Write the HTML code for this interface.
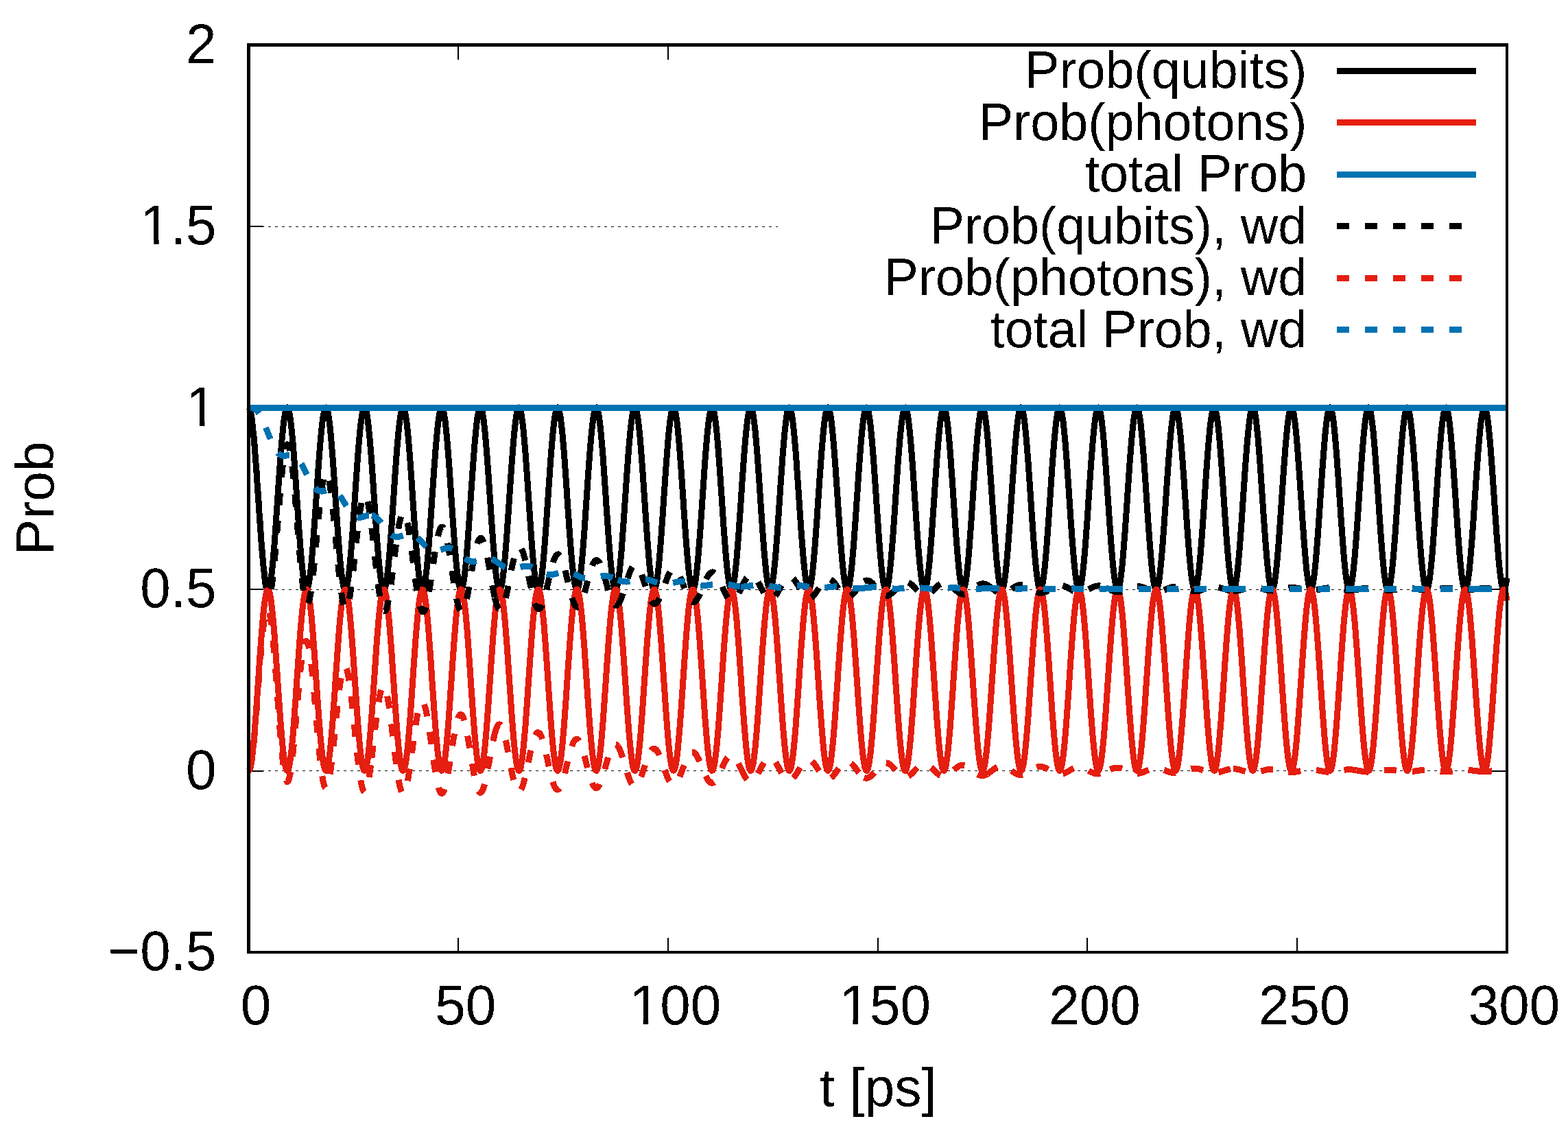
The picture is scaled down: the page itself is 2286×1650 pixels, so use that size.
<!DOCTYPE html>
<html lang="en"><head><meta charset="utf-8"><title>Prob vs t</title>
<style>html,body{margin:0;padding:0;background:#fff;}body{width:2286px;height:1650px;overflow:hidden;}svg{display:block;}text{font-family:"Liberation Sans",sans-serif;font-size:80px;fill:#000;}.k{font-size:75.5px;}.ax{font-size:78.5px;}</style>
</head><body>
<svg width="2286" height="1650" viewBox="0 0 2286 1650" role="img" aria-label="Prob versus t [ps]">
<defs><filter id="crisp" x="0" y="0" width="2286" height="1650" filterUnits="userSpaceOnUse" color-interpolation-filters="sRGB"><feComponentTransfer><feFuncA type="discrete" tableValues="0 1"/></feComponentTransfer></filter></defs>
<rect x="0" y="0" width="2286" height="1650" fill="#fff"/>
<g stroke="#000" stroke-width="1" stroke-dasharray="4.4 5.6" fill="none" shape-rendering="crispEdges">
<line x1="361" y1="330.5" x2="2195" y2="330.5"/>
<line x1="361" y1="594.5" x2="2195" y2="594.5"/>
<line x1="361" y1="859.5" x2="2195" y2="859.5"/>
<line x1="361" y1="1123.5" x2="2195" y2="1123.5"/>
</g>
<g fill="#000" shape-rendering="crispEdges">
<rect x="365" y="329" width="19" height="2"/>
<rect x="2175" y="329" width="20" height="2"/>
<rect x="365" y="594" width="19" height="2"/>
<rect x="2175" y="594" width="20" height="2"/>
<rect x="365" y="858" width="19" height="2"/>
<rect x="2175" y="858" width="20" height="2"/>
<rect x="365" y="1123" width="19" height="2"/>
<rect x="2175" y="1123" width="20" height="2"/>
<rect x="667" y="1367" width="2" height="19"/>
<rect x="667" y="68" width="2" height="19"/>
<rect x="973" y="1367" width="2" height="19"/>
<rect x="973" y="68" width="2" height="19"/>
<rect x="1279" y="1367" width="2" height="19"/>
<rect x="1279" y="68" width="2" height="19"/>
<rect x="1584" y="1367" width="2" height="19"/>
<rect x="1584" y="68" width="2" height="19"/>
<rect x="1890" y="1367" width="2" height="19"/>
<rect x="1890" y="68" width="2" height="19"/>
</g>
<g fill="none" stroke-width="9" stroke-linejoin="round" stroke-linecap="butt" shape-rendering="crispEdges">
<path stroke="#000" d="M362.5 593.9L363.8 595.4L365.2 599.9L366.5 607.2L367.9 617.1L369.2 629.6L370.6 644.2L371.9 660.7L373.3 678.7L374.6 697.8L375.9 717.5L377.3 737.4L378.6 757.1L380.0 776.1L381.3 793.9L382.7 810.3L384.0 824.8L385.4 837.1L386.7 846.9L388.1 854.0L389.4 858.3L390.7 859.6L392.1 857.9L393.4 853.2L394.8 845.8L396.1 835.6L397.5 823.0L398.8 808.2L400.2 791.6L401.5 773.5L402.8 754.4L404.2 734.7L405.5 714.8L406.9 695.1L408.2 676.2L409.6 658.4L410.9 642.1L412.3 627.8L413.6 615.6L415.0 606.0L416.3 599.1L417.6 595.0L419.0 593.9L420.3 595.8L421.7 600.7L423.0 608.4L424.4 618.7L425.7 631.5L427.1 646.4L428.4 663.1L429.7 681.2L431.1 700.4L432.4 720.2L433.8 740.1L435.1 759.7L436.5 778.5L437.8 796.3L439.2 812.4L440.5 826.6L441.9 838.6L443.2 848.0L444.5 854.8L445.9 858.6L447.2 859.5L448.6 857.4L449.9 852.4L451.3 844.5L452.6 834.0L454.0 821.1L455.3 806.1L456.6 789.2L458.0 771.0L459.3 751.8L460.7 732.0L462.0 712.1L463.4 692.5L464.7 673.7L466.1 656.1L467.4 640.1L468.8 626.0L470.1 614.2L471.4 604.9L472.8 598.4L474.1 594.7L475.5 594.0L476.8 596.3L478.2 601.6L479.5 609.6L480.9 620.3L482.2 633.4L483.5 648.5L484.9 665.5L486.2 683.8L487.6 703.0L488.9 722.8L490.3 742.7L491.6 762.3L493.0 781.0L494.3 798.5L495.6 814.4L497.0 828.4L498.3 840.0L499.7 849.1L501.0 855.5L502.4 858.9L503.7 859.4L505.1 856.9L506.4 851.5L507.8 843.3L509.1 832.4L510.4 819.2L511.8 803.9L513.1 786.8L514.5 768.5L515.8 749.1L517.2 729.3L518.5 709.4L519.9 689.9L521.2 671.3L522.5 653.8L523.9 638.1L525.2 624.3L526.6 612.8L527.9 603.9L529.3 597.7L530.6 594.4L532.0 594.2L533.3 596.9L534.7 602.5L536.0 610.9L537.3 621.9L538.7 635.3L540.0 650.7L541.4 667.9L542.7 686.3L544.1 705.7L545.4 725.5L546.8 745.4L548.1 764.9L549.4 783.5L550.8 800.8L552.1 816.4L553.5 830.1L554.8 841.4L556.2 850.1L557.5 856.1L558.9 859.2L560.2 859.2L561.6 856.3L562.9 850.5L564.2 841.9L565.6 830.8L566.9 817.2L568.3 801.7L569.6 784.4L571.0 765.9L572.3 746.5L573.7 726.6L575.0 706.8L576.3 687.3L577.7 668.8L579.0 651.6L580.4 636.1L581.7 622.6L583.1 611.4L584.4 602.9L585.8 597.1L587.1 594.2L588.5 594.4L589.8 597.5L591.1 603.5L592.5 612.2L593.8 623.6L595.2 637.3L596.5 652.9L597.9 670.3L599.2 688.9L600.6 708.4L601.9 728.2L603.2 748.1L604.6 767.4L605.9 785.9L607.3 803.0L608.6 818.4L610.0 831.8L611.3 842.7L612.7 851.1L614.0 856.7L615.3 859.4L616.7 859.0L618.0 855.7L619.4 849.5L620.7 840.6L622.1 829.1L623.4 815.2L624.8 799.4L626.1 782.0L627.5 763.3L628.8 743.8L630.1 723.9L631.5 704.1L632.8 684.8L634.2 666.4L635.5 649.4L636.9 634.1L638.2 620.9L639.6 610.1L640.9 601.9L642.2 596.5L643.6 594.1L644.9 594.6L646.3 598.1L647.6 604.5L649.0 613.6L650.3 625.3L651.7 639.3L653.0 655.2L654.4 672.7L655.7 691.5L657.0 711.0L658.4 730.9L659.7 750.7L661.1 770.0L662.4 788.3L663.8 805.2L665.1 820.3L666.5 833.4L667.8 844.0L669.1 852.0L670.5 857.2L671.8 859.5L673.2 858.8L674.5 855.1L675.9 848.5L677.2 839.2L678.6 827.3L679.9 813.2L681.3 797.2L682.6 779.5L683.9 760.7L685.3 741.1L686.6 721.2L688.0 701.4L689.3 682.2L690.7 664.0L692.0 647.2L693.4 632.2L694.7 619.3L696.0 608.8L697.4 601.0L698.7 596.0L700.1 594.0L701.4 594.9L702.8 598.8L704.1 605.6L705.5 615.1L706.8 627.1L708.1 641.3L709.5 657.5L710.8 675.2L712.2 694.1L713.5 713.7L714.9 733.6L716.2 753.4L717.6 772.5L718.9 790.7L720.3 807.4L721.6 822.2L722.9 835.0L724.3 845.3L725.6 852.9L727.0 857.7L728.3 859.6L729.7 858.4L731.0 854.3L732.4 847.4L733.7 837.7L735.0 825.5L736.4 811.1L737.7 794.9L739.1 777.0L740.4 758.1L741.8 738.4L743.1 718.5L744.5 698.8L745.8 679.7L747.2 661.7L748.5 645.1L749.8 630.3L751.2 617.8L752.5 607.6L753.9 600.2L755.2 595.6L756.6 593.9L757.9 595.3L759.3 599.5L760.6 606.7L761.9 616.5L763.3 628.9L764.6 643.4L766.0 659.8L767.3 677.7L768.7 696.7L770.0 716.4L771.4 736.3L772.7 756.0L774.1 775.1L775.4 793.0L776.7 809.5L778.1 824.1L779.4 836.5L780.8 846.5L782.1 853.7L783.5 858.1L784.8 859.6L786.2 858.0L787.5 853.6L788.8 846.2L790.2 836.2L791.5 823.7L792.9 809.0L794.2 792.5L795.6 774.5L796.9 755.5L798.3 735.8L799.6 715.8L801.0 696.2L802.3 677.2L803.6 659.3L805.0 643.0L806.3 628.5L807.7 616.2L809.0 606.5L810.4 599.4L811.7 595.2L813.1 593.9L814.4 595.7L815.7 600.3L817.1 607.9L818.4 618.1L819.8 630.7L821.1 645.5L822.5 662.1L823.8 680.2L825.2 699.3L826.5 719.1L827.8 739.0L829.2 758.6L830.5 777.6L831.9 795.3L833.2 811.6L834.6 825.9L835.9 838.0L837.3 847.6L838.6 854.5L840.0 858.5L841.3 859.5L842.6 857.6L844.0 852.7L845.3 845.0L846.7 834.6L848.0 821.9L849.4 806.9L850.7 790.2L852.1 772.0L853.4 752.8L854.7 733.1L856.1 713.2L857.4 693.6L858.8 674.7L860.1 657.0L861.5 640.9L862.8 626.7L864.2 614.8L865.5 605.3L866.9 598.6L868.2 594.8L869.5 594.0L870.9 596.1L872.2 601.2L873.6 609.1L874.9 619.6L876.3 632.6L877.6 647.7L879.0 664.5L880.3 682.8L881.6 702.0L883.0 721.8L884.3 741.7L885.7 761.2L887.0 780.0L888.4 797.6L889.7 813.6L891.1 827.7L892.4 839.5L893.8 848.7L895.1 855.2L896.4 858.8L897.8 859.5L899.1 857.1L900.5 851.9L901.8 843.8L903.2 833.1L904.5 820.0L905.9 804.8L907.2 787.8L908.5 769.5L909.9 750.2L911.2 730.4L912.6 710.5L913.9 691.0L915.3 672.2L916.6 654.7L918.0 638.9L919.3 624.9L920.7 613.3L922.0 604.3L923.3 598.0L924.7 594.5L926.0 594.1L927.4 596.6L928.7 602.1L930.1 610.4L931.4 621.3L932.8 634.5L934.1 649.8L935.4 666.9L936.8 685.3L938.1 704.6L939.5 724.5L940.8 744.4L942.2 763.8L943.5 782.5L944.9 799.9L946.2 815.7L947.5 829.4L948.9 840.9L950.2 849.7L951.6 855.9L952.9 859.1L954.3 859.3L955.6 856.6L957.0 850.9L958.3 842.5L959.7 831.4L961.0 818.0L962.3 802.6L963.7 785.4L965.0 766.9L966.4 747.5L967.7 727.7L969.1 707.8L970.4 688.4L971.8 669.8L973.1 652.5L974.4 636.8L975.8 623.2L977.1 612.0L978.5 603.3L979.8 597.3L981.2 594.3L982.5 594.3L983.9 597.2L985.2 603.1L986.6 611.7L987.9 622.9L989.2 636.5L990.6 652.1L991.9 669.3L993.3 687.9L994.6 707.3L996.0 727.2L997.3 747.0L998.7 766.4L1000.0 784.9L1001.3 802.1L1002.7 817.6L1004.0 831.1L1005.4 842.2L1006.7 850.7L1008.1 856.5L1009.4 859.3L1010.8 859.1L1012.1 856.0L1013.5 849.9L1014.8 841.1L1016.1 829.7L1017.5 816.0L1018.8 800.3L1020.2 783.0L1021.5 764.3L1022.9 744.9L1024.2 725.0L1025.6 705.1L1026.9 685.8L1028.2 667.4L1029.6 650.3L1030.9 634.9L1032.3 621.6L1033.6 610.6L1035.0 602.3L1036.3 596.7L1037.7 594.1L1039.0 594.5L1040.4 597.8L1041.7 604.1L1043.0 613.1L1044.4 624.6L1045.7 638.5L1047.1 654.3L1048.4 671.8L1049.8 690.5L1051.1 710.0L1052.5 729.9L1053.8 749.7L1055.1 769.0L1056.5 787.3L1057.8 804.3L1059.2 819.6L1060.5 832.7L1061.9 843.5L1063.2 851.7L1064.6 857.0L1065.9 859.4L1067.2 858.9L1068.6 855.3L1069.9 848.9L1071.3 839.7L1072.6 828.0L1074.0 814.0L1075.3 798.1L1076.7 780.5L1078.0 761.7L1079.4 742.2L1080.7 722.3L1082.0 702.5L1083.4 683.2L1084.7 665.0L1086.1 648.1L1087.4 633.0L1088.8 619.9L1090.1 609.3L1091.5 601.4L1092.8 596.2L1094.1 594.0L1095.5 594.8L1096.8 598.5L1098.2 605.1L1099.5 614.5L1100.9 626.4L1102.2 640.5L1103.6 656.6L1104.9 674.2L1106.3 693.1L1107.6 712.7L1108.9 732.6L1110.3 752.3L1111.6 771.5L1113.0 789.7L1114.3 806.5L1115.7 821.5L1117.0 834.4L1118.4 844.8L1119.7 852.6L1121.0 857.5L1122.4 859.5L1123.7 858.6L1125.1 854.6L1126.4 847.8L1127.8 838.3L1129.1 826.2L1130.5 812.0L1131.8 795.8L1133.2 778.0L1134.5 759.1L1135.8 739.5L1137.2 719.6L1138.5 699.8L1139.9 680.7L1141.2 662.6L1142.6 645.9L1143.9 631.1L1145.3 618.4L1146.6 608.1L1147.9 600.5L1149.3 595.7L1150.6 593.9L1152.0 595.1L1153.3 599.2L1154.7 606.2L1156.0 616.0L1157.4 628.2L1158.7 642.6L1160.1 658.9L1161.4 676.7L1162.7 695.7L1164.1 715.3L1165.4 735.2L1166.8 755.0L1168.1 774.1L1169.5 792.1L1170.8 808.6L1172.2 823.4L1173.5 835.9L1174.8 846.0L1176.2 853.4L1177.5 858.0L1178.9 859.6L1180.2 858.2L1181.6 853.9L1182.9 846.7L1184.3 836.8L1185.6 824.4L1186.9 809.9L1188.3 793.5L1189.6 775.5L1191.0 756.5L1192.3 736.8L1193.7 716.9L1195.0 697.2L1196.4 678.2L1197.7 660.2L1199.1 643.8L1200.4 629.2L1201.7 616.8L1203.1 606.9L1204.4 599.7L1205.8 595.3L1207.1 593.9L1208.5 595.5L1209.8 600.0L1211.2 607.4L1212.5 617.5L1213.8 630.0L1215.2 644.7L1216.5 661.2L1217.9 679.2L1219.2 698.3L1220.6 718.0L1221.9 737.9L1223.3 757.6L1224.6 776.6L1226.0 794.4L1227.3 810.8L1228.6 825.2L1230.0 837.4L1231.3 847.2L1232.7 854.2L1234.0 858.4L1235.4 859.6L1236.7 857.8L1238.1 853.1L1239.4 845.5L1240.7 835.3L1242.1 822.6L1243.4 807.8L1244.8 791.1L1246.1 773.0L1247.5 753.9L1248.8 734.1L1250.2 714.2L1251.5 694.6L1252.9 675.7L1254.2 657.9L1255.5 641.7L1256.9 627.4L1258.2 615.3L1259.6 605.8L1260.9 598.9L1262.3 595.0L1263.6 594.0L1265.0 595.9L1266.3 600.9L1267.6 608.6L1269.0 619.0L1270.3 631.8L1271.7 646.8L1273.0 663.6L1274.4 681.7L1275.7 700.9L1277.1 720.7L1278.4 740.6L1279.8 760.2L1281.1 779.1L1282.4 796.7L1283.8 812.8L1285.1 827.0L1286.5 838.9L1287.8 848.3L1289.2 854.9L1290.5 858.7L1291.9 859.5L1293.2 857.3L1294.5 852.2L1295.9 844.3L1297.2 833.7L1298.6 820.7L1299.9 805.6L1301.3 788.7L1302.6 770.5L1304.0 751.2L1305.3 731.4L1306.6 711.5L1308.0 692.0L1309.3 673.2L1310.7 655.6L1312.0 639.7L1313.4 625.6L1314.7 613.9L1316.1 604.7L1317.4 598.2L1318.8 594.7L1320.1 594.1L1321.4 596.4L1322.8 601.7L1324.1 609.9L1325.5 620.6L1326.8 633.7L1328.2 649.0L1329.5 666.0L1330.9 684.3L1332.2 703.6L1333.5 723.4L1334.9 743.3L1336.2 762.8L1337.6 781.5L1338.9 799.0L1340.3 814.9L1341.6 828.7L1343.0 840.3L1344.3 849.3L1345.7 855.6L1347.0 859.0L1348.3 859.4L1349.7 856.8L1351.0 851.3L1352.4 843.0L1353.7 832.1L1355.1 818.8L1356.4 803.4L1357.8 786.3L1359.1 767.9L1360.4 748.6L1361.8 728.7L1363.1 708.9L1364.5 689.4L1365.8 670.7L1367.2 653.4L1368.5 637.6L1369.9 623.9L1371.2 612.5L1372.6 603.6L1373.9 597.6L1375.2 594.4L1376.6 594.2L1377.9 597.0L1379.3 602.7L1380.6 611.2L1382.0 622.3L1383.3 635.7L1384.7 651.2L1386.0 668.4L1387.3 686.9L1388.7 706.2L1390.0 726.1L1391.4 746.0L1392.7 765.4L1394.1 784.0L1395.4 801.3L1396.8 816.9L1398.1 830.4L1399.4 841.7L1400.8 850.4L1402.1 856.2L1403.5 859.2L1404.8 859.2L1406.2 856.2L1407.5 850.3L1408.9 841.7L1410.2 830.4L1411.6 816.8L1412.9 801.2L1414.2 783.9L1415.6 765.4L1416.9 745.9L1418.3 726.1L1419.6 706.2L1421.0 686.8L1422.3 668.3L1423.7 651.1L1425.0 635.7L1426.3 622.2L1427.7 611.1L1429.0 602.7L1430.4 597.0L1431.7 594.2L1433.1 594.4L1434.4 597.6L1435.8 603.7L1437.1 612.5L1438.5 623.9L1439.8 637.7L1441.1 653.4L1442.5 670.8L1443.8 689.4L1445.2 708.9L1446.5 728.8L1447.9 748.6L1449.2 768.0L1450.6 786.4L1451.9 803.5L1453.2 818.8L1454.6 832.1L1455.9 843.0L1457.3 851.3L1458.6 856.8L1460.0 859.4L1461.3 859.0L1462.7 855.6L1464.0 849.3L1465.4 840.3L1466.7 828.7L1468.0 814.8L1469.4 799.0L1470.7 781.5L1472.1 762.8L1473.4 743.2L1474.8 723.4L1476.1 703.5L1477.5 684.2L1478.8 665.9L1480.1 648.9L1481.5 633.7L1482.8 620.6L1484.2 609.8L1485.5 601.7L1486.9 596.4L1488.2 594.0L1489.6 594.7L1490.9 598.2L1492.3 604.7L1493.6 613.9L1494.9 625.7L1496.3 639.7L1497.6 655.7L1499.0 673.2L1500.3 692.0L1501.7 711.6L1503.0 731.5L1504.4 751.3L1505.7 770.5L1507.0 788.8L1508.4 805.7L1509.7 820.7L1511.1 833.7L1512.4 844.3L1513.8 852.2L1515.1 857.3L1516.5 859.5L1517.8 858.7L1519.1 854.9L1520.5 848.3L1521.8 838.9L1523.2 827.0L1524.5 812.8L1525.9 796.7L1527.2 779.0L1528.6 760.2L1529.9 740.6L1531.3 720.7L1532.6 700.9L1533.9 681.7L1535.3 663.5L1536.6 646.8L1538.0 631.8L1539.3 619.0L1540.7 608.6L1542.0 600.8L1543.4 595.9L1544.7 594.0L1546.0 595.0L1547.4 598.9L1548.7 605.8L1550.1 615.4L1551.4 627.4L1552.8 641.7L1554.1 658.0L1555.5 675.7L1556.8 694.6L1558.2 714.3L1559.5 734.2L1560.8 753.9L1562.2 773.1L1563.5 791.2L1564.9 807.8L1566.2 822.6L1567.6 835.3L1568.9 845.5L1570.3 853.1L1571.6 857.8L1572.9 859.6L1574.3 858.4L1575.6 854.2L1577.0 847.1L1578.3 837.4L1579.7 825.2L1581.0 810.7L1582.4 794.4L1583.7 776.5L1585.1 757.6L1586.4 737.9L1587.7 718.0L1589.1 698.3L1590.4 679.2L1591.8 661.2L1593.1 644.6L1594.5 629.9L1595.8 617.4L1597.2 607.4L1598.5 600.0L1599.8 595.5L1601.2 593.9L1602.5 595.3L1603.9 599.7L1605.2 606.9L1606.6 616.9L1607.9 629.2L1609.3 643.8L1610.6 660.3L1612.0 678.2L1613.3 697.3L1614.6 717.0L1616.0 736.9L1617.3 756.6L1618.7 775.6L1620.0 793.5L1621.4 809.9L1622.7 824.5L1624.1 836.8L1625.4 846.7L1626.7 853.9L1628.1 858.2L1629.4 859.6L1630.8 858.0L1632.1 853.4L1633.5 846.0L1634.8 835.9L1636.2 823.3L1637.5 808.6L1638.8 792.0L1640.2 774.0L1641.5 754.9L1642.9 735.2L1644.2 715.3L1645.6 695.6L1646.9 676.7L1648.3 658.8L1649.6 642.5L1651.0 628.1L1652.3 615.9L1653.6 606.2L1655.0 599.2L1656.3 595.1L1657.7 593.9L1659.0 595.8L1660.4 600.5L1661.7 608.1L1663.1 618.4L1664.4 631.1L1665.7 646.0L1667.1 662.6L1668.4 680.7L1669.8 699.9L1671.1 719.6L1672.5 739.6L1673.8 759.2L1675.2 778.1L1676.5 795.8L1677.9 812.0L1679.2 826.3L1680.5 838.3L1681.9 847.8L1683.2 854.6L1684.6 858.6L1685.9 859.5L1687.3 857.5L1688.6 852.6L1690.0 844.8L1691.3 834.3L1692.6 821.5L1694.0 806.5L1695.3 789.7L1696.7 771.5L1698.0 752.3L1699.4 732.5L1700.7 712.6L1702.1 693.0L1703.4 674.2L1704.8 656.5L1706.1 640.5L1707.4 626.3L1708.8 614.5L1710.1 605.1L1711.5 598.5L1712.8 594.8L1714.2 594.0L1715.5 596.2L1716.9 601.4L1718.2 609.4L1719.5 620.0L1720.9 633.0L1722.2 648.1L1723.6 665.0L1724.9 683.3L1726.3 702.5L1727.6 722.3L1729.0 742.2L1730.3 761.8L1731.7 780.6L1733.0 798.1L1734.3 814.1L1735.7 828.0L1737.0 839.8L1738.4 848.9L1739.7 855.3L1741.1 858.9L1742.4 859.4L1743.8 857.0L1745.1 851.7L1746.4 843.5L1747.8 832.7L1749.1 819.6L1750.5 804.3L1751.8 787.3L1753.2 768.9L1754.5 749.6L1755.9 729.8L1757.2 709.9L1758.5 690.4L1759.9 671.7L1761.2 654.3L1762.6 638.4L1763.9 624.6L1765.3 613.0L1766.6 604.1L1768.0 597.8L1769.3 594.5L1770.7 594.1L1772.0 596.8L1773.3 602.3L1774.7 610.6L1776.0 621.6L1777.4 634.9L1778.7 650.3L1780.1 667.4L1781.4 685.8L1782.8 705.2L1784.1 725.0L1785.4 744.9L1786.8 764.4L1788.1 783.0L1789.5 800.4L1790.8 816.1L1792.2 829.8L1793.5 841.1L1794.9 850.0L1796.2 856.0L1797.6 859.1L1798.9 859.3L1800.2 856.5L1801.6 850.7L1802.9 842.2L1804.3 831.1L1805.6 817.6L1807.0 802.1L1808.3 784.9L1809.7 766.4L1811.0 747.0L1812.3 727.1L1813.7 707.3L1815.0 687.8L1816.4 669.3L1817.7 652.0L1819.1 636.4L1820.4 622.9L1821.8 611.7L1823.1 603.0L1824.5 597.2L1825.8 594.3L1827.1 594.3L1828.5 597.3L1829.8 603.3L1831.2 612.0L1832.5 623.3L1833.9 636.9L1835.2 652.5L1836.6 669.8L1837.9 688.4L1839.2 707.9L1840.6 727.7L1841.9 747.6L1843.3 767.0L1844.6 785.4L1846.0 802.6L1847.3 818.0L1848.7 831.4L1850.0 842.5L1851.4 850.9L1852.7 856.6L1854.0 859.3L1855.4 859.1L1856.7 855.9L1858.1 849.7L1859.4 840.8L1860.8 829.4L1862.1 815.6L1863.5 799.9L1864.8 782.5L1866.1 763.8L1867.5 744.3L1868.8 724.4L1870.2 704.6L1871.5 685.3L1872.9 666.9L1874.2 649.8L1875.6 634.5L1876.9 621.2L1878.2 610.4L1879.6 602.1L1880.9 596.6L1882.3 594.1L1883.6 594.6L1885.0 598.0L1886.3 604.3L1887.7 613.4L1889.0 625.0L1890.4 638.9L1891.7 654.8L1893.0 672.3L1894.4 691.0L1895.7 710.5L1897.1 730.4L1898.4 750.2L1899.8 769.5L1901.1 787.8L1902.5 804.8L1903.8 820.0L1905.1 833.1L1906.5 843.8L1907.8 851.9L1909.2 857.1L1910.5 859.5L1911.9 858.8L1913.2 855.2L1914.6 848.7L1915.9 839.4L1917.3 827.6L1918.6 813.6L1919.9 797.6L1921.3 780.0L1922.6 761.2L1924.0 741.6L1925.3 721.7L1926.7 701.9L1928.0 682.7L1929.4 664.5L1930.7 647.6L1932.0 632.6L1933.4 619.6L1934.7 609.1L1936.1 601.2L1937.4 596.1L1938.8 594.0L1940.1 594.8L1941.5 598.7L1942.8 605.4L1944.2 614.8L1945.5 626.7L1946.8 640.9L1948.2 657.1L1949.5 674.7L1950.9 693.6L1952.2 713.2L1953.6 733.1L1954.9 752.9L1956.3 772.1L1957.6 790.2L1958.9 807.0L1960.3 821.9L1961.6 834.7L1963.0 845.0L1964.3 852.7L1965.7 857.6L1967.0 859.5L1968.4 858.5L1969.7 854.5L1971.0 847.6L1972.4 838.0L1973.7 825.9L1975.1 811.5L1976.4 795.3L1977.8 777.5L1979.1 758.6L1980.5 739.0L1981.8 719.0L1983.2 699.3L1984.5 680.2L1985.8 662.1L1987.2 645.5L1988.5 630.7L1989.9 618.0L1991.2 607.9L1992.6 600.3L1993.9 595.7L1995.3 593.9L1996.6 595.2L1997.9 599.4L1999.3 606.5L2000.6 616.3L2002.0 628.5L2003.3 643.0L2004.7 659.4L2006.0 677.2L2007.4 696.2L2008.7 715.9L2010.1 735.8L2011.4 755.5L2012.7 774.6L2014.1 792.6L2015.4 809.1L2016.8 823.7L2018.1 836.2L2019.5 846.2L2020.8 853.6L2022.2 858.1L2023.5 859.6L2024.8 858.1L2026.2 853.7L2027.5 846.4L2028.9 836.5L2030.2 824.1L2031.6 809.4L2032.9 793.0L2034.3 775.0L2035.6 756.0L2037.0 736.3L2038.3 716.3L2039.6 696.7L2041.0 677.7L2042.3 659.8L2043.7 643.4L2045.0 628.8L2046.4 616.5L2047.7 606.7L2049.1 599.5L2050.4 595.2L2051.7 593.9L2053.1 595.6L2054.4 600.2L2055.8 607.6L2057.1 617.8L2058.5 630.4L2059.8 645.1L2061.2 661.7L2062.5 679.7L2063.9 698.8L2065.2 718.6L2066.5 738.5L2067.9 758.1L2069.2 777.1L2070.6 794.9L2071.9 811.2L2073.3 825.6L2074.6 837.7L2076.0 847.4L2077.3 854.3L2078.6 858.4L2080.0 859.6L2081.3 857.7L2082.7 852.9L2084.0 845.3L2085.4 834.9L2086.7 822.2L2088.1 807.3L2089.4 790.6L2090.7 772.5L2092.1 753.3L2093.4 733.6L2094.8 713.7L2096.1 694.0L2097.5 675.2L2098.8 657.4L2100.2 641.3L2101.5 627.0L2102.9 615.0L2104.2 605.5L2105.5 598.8L2106.9 594.9L2108.2 594.0L2109.6 596.0L2110.9 601.0L2112.3 608.9L2113.6 619.3L2115.0 632.2L2116.3 647.3L2117.6 664.1L2119.0 682.3L2120.3 701.5L2121.7 721.3L2123.0 741.2L2124.4 760.8L2125.7 779.6L2127.1 797.2L2128.4 813.2L2129.8 827.3L2131.1 839.2L2132.4 848.5L2133.8 855.1L2135.1 858.8L2136.5 859.5L2137.8 857.2L2139.2 852.0L2140.5 844.0L2141.9 833.4L2143.2 820.3L2144.5 805.2L2145.9 788.2L2147.2 770.0L2148.6 750.7L2149.9 730.9L2151.3 711.0L2152.6 691.4L2154.0 672.7L2155.3 655.2L2156.7 639.2L2158.0 625.3L2159.3 613.6L2160.7 604.5L2162.0 598.1L2163.4 594.6L2164.7 594.1L2166.1 596.5L2167.4 601.9L2168.8 610.1L2170.1 621.0L2171.4 634.1L2172.8 649.4L2174.1 666.4L2175.5 684.8L2176.8 704.1L2178.2 724.0L2179.5 743.9L2180.9 763.4L2182.2 782.0L2183.6 799.5L2184.9 815.3L2186.2 829.1L2187.6 840.6L2188.9 849.6L2190.3 855.7L2191.6 859.0L2193.0 859.3L2194.3 856.7L2195.7 851.1L2197.0 842.7"/>
<path stroke="#e51e10" d="M362.5 1123.5L363.8 1122.0L365.2 1117.6L366.5 1110.3L367.9 1100.4L369.2 1088.0L370.6 1073.4L371.9 1057.0L373.3 1039.1L374.6 1020.1L375.9 1000.5L377.3 980.7L378.6 961.1L380.0 942.2L381.3 924.4L382.7 908.0L384.0 893.6L385.4 881.4L386.7 871.6L388.1 864.5L389.4 860.3L390.7 859.0L392.1 860.7L393.4 865.3L394.8 872.8L396.1 882.9L397.5 895.4L398.8 910.1L400.2 926.7L401.5 944.7L402.8 963.7L404.2 983.3L405.5 1003.2L406.9 1022.7L408.2 1041.6L409.6 1059.3L410.9 1075.5L412.3 1089.8L413.6 1101.9L415.0 1111.5L416.3 1118.4L417.6 1122.4L419.0 1123.5L420.3 1121.6L421.7 1116.8L423.0 1109.1L424.4 1098.8L425.7 1086.1L427.1 1071.3L428.4 1054.6L429.7 1036.6L431.1 1017.5L432.4 997.8L433.8 978.0L435.1 958.5L436.5 939.7L437.8 922.1L439.2 906.0L440.5 891.8L441.9 879.9L443.2 870.5L444.5 863.8L445.9 859.9L447.2 859.1L448.6 861.1L449.9 866.2L451.3 874.0L452.6 884.4L454.0 897.3L455.3 912.3L456.6 929.0L458.0 947.2L459.3 966.3L460.7 986.0L462.0 1005.8L463.4 1025.3L464.7 1044.1L466.1 1061.6L467.4 1077.5L468.8 1091.6L470.1 1103.3L471.4 1112.6L472.8 1119.1L474.1 1122.7L475.5 1123.4L476.8 1121.1L478.2 1115.9L479.5 1107.9L480.9 1097.3L482.2 1084.2L483.5 1069.1L484.9 1052.3L486.2 1034.0L487.6 1014.9L488.9 995.1L490.3 975.3L491.6 955.9L493.0 937.2L494.3 919.8L495.6 903.9L497.0 890.1L498.3 878.5L499.7 869.4L501.0 863.1L502.4 859.7L503.7 859.2L505.1 861.7L506.4 867.1L507.8 875.3L509.1 886.1L510.4 899.2L511.8 914.5L513.1 931.4L514.5 949.7L515.8 969.0L517.2 988.7L518.5 1008.5L519.9 1027.9L521.2 1046.5L522.5 1063.8L523.9 1079.6L525.2 1093.3L526.6 1104.7L527.9 1113.6L529.3 1119.7L530.6 1123.0L532.0 1123.3L533.3 1120.6L534.7 1115.0L536.0 1106.6L537.3 1095.6L538.7 1082.3L540.0 1066.9L541.4 1049.9L542.7 1031.5L544.1 1012.2L545.4 992.5L546.8 972.7L548.1 953.3L549.4 934.8L550.8 917.5L552.1 901.9L553.5 888.4L554.8 877.1L556.2 868.4L557.5 862.5L558.9 859.4L560.2 859.3L561.6 862.2L562.9 868.0L564.2 876.6L565.6 887.7L566.9 901.2L568.3 916.7L569.6 933.8L571.0 952.3L572.3 971.6L573.7 991.4L575.0 1011.2L576.3 1030.5L577.7 1048.9L579.0 1066.1L580.4 1081.5L581.7 1095.0L583.1 1106.1L584.4 1114.6L585.8 1120.3L587.1 1123.2L588.5 1123.1L589.8 1120.0L591.1 1114.0L592.5 1105.3L593.8 1094.0L595.2 1080.3L596.5 1064.7L597.9 1047.5L599.2 1028.9L600.6 1009.6L601.9 989.8L603.2 970.0L604.6 950.7L605.9 932.4L607.3 915.3L608.6 900.0L610.0 886.7L611.3 875.8L612.7 867.4L614.0 861.9L615.3 859.2L616.7 859.6L618.0 862.8L619.4 869.0L620.7 877.9L622.1 889.4L623.4 903.1L624.8 918.9L626.1 936.3L627.5 954.9L628.8 974.3L630.1 994.1L631.5 1013.8L632.8 1033.0L634.2 1051.3L635.5 1068.3L636.9 1083.5L638.2 1096.6L639.6 1107.4L640.9 1115.5L642.2 1120.9L643.6 1123.3L644.9 1122.8L646.3 1119.3L647.6 1113.0L649.0 1103.9L650.3 1092.2L651.7 1078.3L653.0 1062.5L654.4 1045.0L655.7 1026.4L657.0 1006.9L658.4 987.1L659.7 967.4L661.1 948.2L662.4 930.0L663.8 913.1L665.1 898.1L666.5 885.1L667.8 874.5L669.1 866.5L670.5 861.3L671.8 859.1L673.2 859.8L674.5 863.5L675.9 870.1L677.2 879.3L678.6 891.1L679.9 905.2L681.3 921.1L682.6 938.7L683.9 957.4L685.3 976.9L686.6 996.8L688.0 1016.4L689.3 1035.6L690.7 1053.7L692.0 1070.4L693.4 1085.4L694.7 1098.2L696.0 1108.6L697.4 1116.4L698.7 1121.4L700.1 1123.4L701.4 1122.5L702.8 1118.6L704.1 1111.9L705.5 1102.4L706.8 1090.5L708.1 1076.3L709.5 1060.2L710.8 1042.6L712.2 1023.8L713.5 1004.2L714.9 984.4L716.2 964.7L717.6 945.7L718.9 927.6L720.3 911.0L721.6 896.2L722.9 883.5L724.3 873.2L725.6 865.6L727.0 860.9L728.3 859.0L729.7 860.1L731.0 864.2L732.4 871.2L733.7 880.8L735.0 892.9L736.4 907.2L737.7 923.4L739.1 941.2L740.4 960.0L741.8 979.6L743.1 999.4L744.5 1019.1L745.8 1038.1L747.2 1056.1L748.5 1072.6L749.8 1087.3L751.2 1099.8L752.5 1109.9L753.9 1117.3L755.2 1121.9L756.6 1123.5L757.9 1122.2L759.3 1117.9L760.6 1110.8L761.9 1101.0L763.3 1088.7L764.6 1074.2L766.0 1057.9L767.3 1040.1L768.7 1021.2L770.0 1001.6L771.4 981.7L772.7 962.1L774.1 943.2L775.4 925.3L776.7 908.9L778.1 894.3L779.4 882.0L780.8 872.1L782.1 864.8L783.5 860.4L784.8 859.0L786.2 860.5L787.5 865.0L788.8 872.3L790.2 882.3L791.5 894.7L792.9 909.3L794.2 925.8L795.6 943.7L796.9 962.7L798.3 982.3L799.6 1002.1L801.0 1021.7L802.3 1040.6L803.6 1058.4L805.0 1074.7L806.3 1089.1L807.7 1101.3L809.0 1111.0L810.4 1118.1L811.7 1122.2L813.1 1123.5L814.4 1121.8L815.7 1117.1L817.1 1109.6L818.4 1099.5L819.8 1086.9L821.1 1072.1L822.5 1055.6L823.8 1037.6L825.2 1018.5L826.5 998.9L827.8 979.1L829.2 959.5L830.5 940.7L831.9 923.0L833.2 906.8L834.6 892.5L835.9 880.5L837.3 870.9L838.6 864.1L840.0 860.1L841.3 859.0L842.6 861.0L844.0 865.8L845.3 873.5L846.7 883.8L848.0 896.6L849.4 911.4L850.7 928.1L852.1 946.2L853.4 965.3L854.7 985.0L856.1 1004.8L857.4 1024.3L858.8 1043.1L860.1 1060.7L861.5 1076.7L862.8 1090.9L864.2 1102.7L865.5 1112.1L866.9 1118.8L868.2 1122.6L869.5 1123.4L870.9 1121.3L872.2 1116.2L873.6 1108.4L874.9 1097.9L876.3 1085.0L877.6 1070.0L879.0 1053.2L880.3 1035.1L881.6 1015.9L883.0 996.2L884.3 976.4L885.7 956.9L887.0 938.2L888.4 920.7L889.7 904.7L891.1 890.8L892.4 879.0L893.8 869.8L895.1 863.4L896.4 859.8L897.8 859.1L899.1 861.4L900.5 866.7L901.8 874.7L903.2 885.4L904.5 898.5L905.9 913.6L907.2 930.5L908.5 948.7L909.9 967.9L911.2 987.6L912.6 1007.4L913.9 1026.9L915.3 1045.5L916.6 1063.0L918.0 1078.8L919.3 1092.6L920.7 1104.2L922.0 1113.2L923.3 1119.5L924.7 1122.9L926.0 1123.3L927.4 1120.8L928.7 1115.3L930.1 1107.1L931.4 1096.3L932.8 1083.1L934.1 1067.8L935.4 1050.8L936.8 1032.5L938.1 1013.3L939.5 993.5L940.8 973.7L942.2 954.3L943.5 935.7L944.9 918.4L946.2 902.7L947.5 889.0L948.9 877.6L950.2 868.8L951.6 862.7L952.9 859.5L954.3 859.3L955.6 862.0L957.0 867.6L958.3 876.0L959.7 887.0L961.0 900.4L962.3 915.8L963.7 932.9L965.0 951.3L966.4 970.6L967.7 990.3L969.1 1010.1L970.4 1029.5L971.8 1048.0L973.1 1065.2L974.4 1080.8L975.8 1094.3L977.1 1105.5L978.5 1114.2L979.8 1120.1L981.2 1123.1L982.5 1123.1L983.9 1120.2L985.2 1114.4L986.6 1105.8L987.9 1094.6L989.2 1081.1L990.6 1065.6L991.9 1048.4L993.3 1030.0L994.6 1010.6L996.0 990.8L997.3 971.1L998.7 951.7L1000.0 933.3L1001.3 916.2L1002.7 900.8L1004.0 887.4L1005.4 876.3L1006.7 867.8L1008.1 862.1L1009.4 859.3L1010.8 859.5L1012.1 862.6L1013.5 868.6L1014.8 877.4L1016.1 888.7L1017.5 902.4L1018.8 918.0L1020.2 935.3L1021.5 953.8L1022.9 973.2L1024.2 993.0L1025.6 1012.8L1026.9 1032.0L1028.2 1050.4L1029.6 1067.4L1030.9 1082.7L1032.3 1096.0L1033.6 1106.9L1035.0 1115.2L1036.3 1120.7L1037.7 1123.3L1039.0 1122.9L1040.4 1119.6L1041.7 1113.4L1043.0 1104.4L1044.4 1092.9L1045.7 1079.1L1047.1 1063.4L1048.4 1046.0L1049.8 1027.4L1051.1 1008.0L1052.5 988.1L1053.8 968.4L1055.1 949.2L1056.5 930.9L1057.8 914.0L1059.2 898.8L1060.5 885.7L1061.9 875.0L1063.2 866.9L1064.6 861.5L1065.9 859.1L1067.2 859.7L1068.6 863.2L1069.9 869.6L1071.3 878.8L1072.6 890.4L1074.0 904.4L1075.3 920.2L1076.7 937.7L1078.0 956.4L1079.4 975.9L1080.7 995.7L1082.0 1015.4L1083.4 1034.6L1084.7 1052.8L1086.1 1069.6L1087.4 1084.6L1088.8 1097.6L1090.1 1108.1L1091.5 1116.1L1092.8 1121.2L1094.1 1123.4L1095.5 1122.6L1096.8 1118.9L1098.2 1112.3L1099.5 1103.0L1100.9 1091.2L1102.2 1077.1L1103.6 1061.1L1104.9 1043.5L1106.3 1024.8L1107.6 1005.3L1108.9 985.5L1110.3 965.8L1111.6 946.7L1113.0 928.5L1114.3 911.8L1115.7 896.9L1117.0 884.1L1118.4 873.7L1119.7 866.0L1121.0 861.1L1122.4 859.0L1123.7 860.0L1125.1 863.9L1126.4 870.7L1127.8 880.2L1129.1 892.2L1130.5 906.4L1131.8 922.5L1133.2 940.2L1134.5 959.0L1135.8 978.5L1137.2 998.4L1138.5 1018.0L1139.9 1037.1L1141.2 1055.1L1142.6 1071.7L1143.9 1086.5L1145.3 1099.2L1146.6 1109.4L1147.9 1116.9L1149.3 1121.7L1150.6 1123.5L1152.0 1122.3L1153.3 1118.2L1154.7 1111.2L1156.0 1101.6L1157.4 1089.4L1158.7 1075.1L1160.1 1058.8L1161.4 1041.1L1162.7 1022.2L1164.1 1002.6L1165.4 982.8L1166.8 963.1L1168.1 944.1L1169.5 926.2L1170.8 909.7L1172.2 895.1L1173.5 882.6L1174.8 872.5L1176.2 865.1L1177.5 860.6L1178.9 859.0L1180.2 860.4L1181.6 864.7L1182.9 871.8L1184.3 881.7L1185.6 894.0L1186.9 908.5L1188.3 924.8L1189.6 942.7L1191.0 961.6L1192.3 981.2L1193.7 1001.1L1195.0 1020.7L1196.4 1039.6L1197.7 1057.5L1199.1 1073.8L1200.4 1088.4L1201.7 1100.7L1203.1 1110.6L1204.4 1117.8L1205.8 1122.1L1207.1 1123.5L1208.5 1121.9L1209.8 1117.4L1211.2 1110.1L1212.5 1100.1L1213.8 1087.6L1215.2 1073.0L1216.5 1056.5L1217.9 1038.6L1219.2 1019.6L1220.6 999.9L1221.9 980.1L1223.3 960.5L1224.6 941.6L1226.0 923.9L1227.3 907.6L1228.6 893.2L1230.0 881.1L1231.3 871.4L1232.7 864.4L1234.0 860.2L1235.4 859.0L1236.7 860.8L1238.1 865.5L1239.4 873.0L1240.7 883.2L1242.1 895.8L1243.4 910.6L1244.8 927.2L1246.1 945.2L1247.5 964.2L1248.8 983.9L1250.2 1003.7L1251.5 1023.3L1252.9 1042.1L1254.2 1059.8L1255.5 1075.9L1256.9 1090.2L1258.2 1102.2L1259.6 1111.7L1260.9 1118.5L1262.3 1122.5L1263.6 1123.5L1265.0 1121.5L1266.3 1116.6L1267.6 1108.9L1269.0 1098.5L1270.3 1085.7L1271.7 1070.8L1273.0 1054.2L1274.4 1036.1L1275.7 1016.9L1277.1 997.3L1278.4 977.4L1279.8 957.9L1281.1 939.2L1282.4 921.6L1283.8 905.6L1285.1 891.5L1286.5 879.6L1287.8 870.3L1289.2 863.6L1290.5 859.9L1291.9 859.1L1293.2 861.3L1294.5 866.3L1295.9 874.2L1297.2 884.8L1298.6 897.7L1299.9 912.7L1301.3 929.5L1302.6 947.7L1304.0 966.9L1305.3 986.6L1306.6 1006.4L1308.0 1025.9L1309.3 1044.6L1310.7 1062.1L1312.0 1078.0L1313.4 1091.9L1314.7 1103.6L1316.1 1112.8L1317.4 1119.2L1318.8 1122.8L1320.1 1123.4L1321.4 1121.0L1322.8 1115.7L1324.1 1107.6L1325.5 1096.9L1326.8 1083.8L1328.2 1068.7L1329.5 1051.8L1330.9 1033.5L1332.2 1014.3L1333.5 994.6L1334.9 974.8L1336.2 955.3L1337.6 936.7L1338.9 919.3L1340.3 903.5L1341.6 889.7L1343.0 878.2L1344.3 869.2L1345.7 863.0L1347.0 859.6L1348.3 859.2L1349.7 861.8L1351.0 867.3L1352.4 875.5L1353.7 886.4L1355.1 899.6L1356.4 914.9L1357.8 931.9L1359.1 950.3L1360.4 969.5L1361.8 989.3L1363.1 1009.1L1364.5 1028.5L1365.8 1047.0L1367.2 1064.3L1368.5 1080.0L1369.9 1093.6L1371.2 1105.0L1372.6 1113.8L1373.9 1119.9L1375.2 1123.0L1376.6 1123.2L1377.9 1120.5L1379.3 1114.8L1380.6 1106.3L1382.0 1095.3L1383.3 1081.9L1384.7 1066.5L1386.0 1049.4L1387.3 1031.0L1388.7 1011.7L1390.0 991.9L1391.4 972.1L1392.7 952.8L1394.1 934.3L1395.4 917.1L1396.8 901.5L1398.1 888.0L1399.4 876.8L1400.8 868.2L1402.1 862.3L1403.5 859.4L1404.8 859.4L1406.2 862.3L1407.5 868.2L1408.9 876.8L1410.2 888.0L1411.6 901.6L1412.9 917.1L1414.2 934.3L1415.6 952.8L1416.9 972.2L1418.3 991.9L1419.6 1011.7L1421.0 1031.0L1422.3 1049.4L1423.7 1066.5L1425.0 1081.9L1426.3 1095.3L1427.7 1106.3L1429.0 1114.8L1430.4 1120.5L1431.7 1123.2L1433.1 1123.0L1434.4 1119.9L1435.8 1113.8L1437.1 1105.0L1438.5 1093.6L1439.8 1079.9L1441.1 1064.3L1442.5 1047.0L1443.8 1028.4L1445.2 1009.0L1446.5 989.2L1447.9 969.5L1449.2 950.2L1450.6 931.9L1451.9 914.9L1453.2 899.6L1454.6 886.4L1455.9 875.5L1457.3 867.2L1458.6 861.8L1460.0 859.2L1461.3 859.6L1462.7 863.0L1464.0 869.2L1465.4 878.2L1466.7 889.7L1468.0 903.6L1469.4 919.4L1470.7 936.8L1472.1 955.4L1473.4 974.8L1474.8 994.6L1476.1 1014.4L1477.5 1033.6L1478.8 1051.8L1480.1 1068.7L1481.5 1083.9L1482.8 1097.0L1484.2 1107.6L1485.5 1115.7L1486.9 1121.0L1488.2 1123.4L1489.6 1122.8L1490.9 1119.2L1492.3 1112.8L1493.6 1103.6L1494.9 1091.9L1496.3 1077.9L1497.6 1062.0L1499.0 1044.5L1500.3 1025.8L1501.7 1006.3L1503.0 986.5L1504.4 966.8L1505.7 947.7L1507.0 929.5L1508.4 912.7L1509.7 897.7L1511.1 884.7L1512.4 874.2L1513.8 866.3L1515.1 861.2L1516.5 859.1L1517.8 859.9L1519.1 863.6L1520.5 870.3L1521.8 879.6L1523.2 891.5L1524.5 905.6L1525.9 921.6L1527.2 939.2L1528.6 958.0L1529.9 977.5L1531.3 997.3L1532.6 1017.0L1533.9 1036.1L1535.3 1054.2L1536.6 1070.9L1538.0 1085.8L1539.3 1098.5L1540.7 1108.9L1542.0 1116.6L1543.4 1121.5L1544.7 1123.5L1546.0 1122.5L1547.4 1118.5L1548.7 1111.7L1550.1 1102.1L1551.4 1090.1L1552.8 1075.9L1554.1 1059.7L1555.5 1042.1L1556.8 1023.2L1558.2 1003.7L1559.5 983.8L1560.8 964.2L1562.2 945.1L1563.5 927.1L1564.9 910.6L1566.2 895.8L1567.6 883.2L1568.9 873.0L1570.3 865.5L1571.6 860.8L1572.9 859.0L1574.3 860.2L1575.6 864.4L1577.0 871.4L1578.3 881.1L1579.7 893.3L1581.0 907.7L1582.4 923.9L1583.7 941.7L1585.1 960.6L1586.4 980.2L1587.7 1000.0L1589.1 1019.6L1590.4 1038.6L1591.8 1056.5L1593.1 1073.0L1594.5 1087.6L1595.8 1100.1L1597.2 1110.1L1598.5 1117.4L1599.8 1121.9L1601.2 1123.5L1602.5 1122.1L1603.9 1117.7L1605.2 1110.5L1606.6 1100.7L1607.9 1088.3L1609.3 1073.8L1610.6 1057.4L1612.0 1039.6L1613.3 1020.6L1614.6 1001.0L1616.0 981.2L1617.3 961.6L1618.7 942.6L1620.0 924.8L1621.4 908.4L1622.7 894.0L1624.1 881.7L1625.4 871.8L1626.7 864.7L1628.1 860.4L1629.4 859.0L1630.8 860.6L1632.1 865.2L1633.5 872.5L1634.8 882.6L1636.2 895.1L1637.5 909.7L1638.8 926.2L1640.2 944.2L1641.5 963.2L1642.9 982.8L1644.2 1002.7L1645.6 1022.2L1646.9 1041.1L1648.3 1058.9L1649.6 1075.1L1651.0 1089.4L1652.3 1101.6L1653.6 1111.3L1655.0 1118.2L1656.3 1122.3L1657.7 1123.5L1659.0 1121.7L1660.4 1116.9L1661.7 1109.4L1663.1 1099.1L1664.4 1086.5L1665.7 1071.7L1667.1 1055.1L1668.4 1037.1L1669.8 1018.0L1671.1 998.3L1672.5 978.5L1673.8 959.0L1675.2 940.1L1676.5 922.5L1677.9 906.4L1679.2 892.2L1680.5 880.2L1681.9 870.7L1683.2 863.9L1684.6 860.0L1685.9 859.0L1687.3 861.1L1688.6 866.0L1690.0 873.8L1691.3 884.2L1692.6 897.0L1694.0 911.9L1695.3 928.6L1696.7 946.7L1698.0 965.8L1699.4 985.5L1700.7 1005.3L1702.1 1024.8L1703.4 1043.6L1704.8 1061.2L1706.1 1077.2L1707.4 1091.2L1708.8 1103.0L1710.1 1112.4L1711.5 1118.9L1712.8 1122.7L1714.2 1123.4L1715.5 1121.2L1716.9 1116.1L1718.2 1108.1L1719.5 1097.6L1720.9 1084.6L1722.2 1069.5L1723.6 1052.7L1724.9 1034.5L1726.3 1015.4L1727.6 995.6L1729.0 975.8L1730.3 956.4L1731.7 937.7L1733.0 920.2L1734.3 904.3L1735.7 890.4L1737.0 878.7L1738.4 869.6L1739.7 863.2L1741.1 859.7L1742.4 859.1L1743.8 861.6L1745.1 866.9L1746.4 875.0L1747.8 885.7L1749.1 898.9L1750.5 914.0L1751.8 931.0L1753.2 949.2L1754.5 968.5L1755.9 988.2L1757.2 1008.0L1758.5 1027.4L1759.9 1046.0L1761.2 1063.4L1762.6 1079.2L1763.9 1093.0L1765.3 1104.5L1766.6 1113.4L1768.0 1119.6L1769.3 1122.9L1770.7 1123.3L1772.0 1120.7L1773.3 1115.2L1774.7 1106.8L1776.0 1095.9L1777.4 1082.7L1778.7 1067.4L1780.1 1050.3L1781.4 1032.0L1782.8 1012.7L1784.1 993.0L1785.4 973.2L1786.8 953.8L1788.1 935.2L1789.5 918.0L1790.8 902.3L1792.2 888.7L1793.5 877.4L1794.9 868.6L1796.2 862.6L1797.6 859.5L1798.9 859.3L1800.2 862.1L1801.6 867.8L1802.9 876.3L1804.3 887.4L1805.6 900.8L1807.0 916.2L1808.3 933.4L1809.7 951.8L1811.0 971.1L1812.3 990.9L1813.7 1010.7L1815.0 1030.0L1816.4 1048.5L1817.7 1065.7L1819.1 1081.2L1820.4 1094.7L1821.8 1105.8L1823.1 1114.4L1824.5 1120.2L1825.8 1123.2L1827.1 1123.1L1828.5 1120.1L1829.8 1114.2L1831.2 1105.5L1832.5 1094.3L1833.9 1080.7L1835.2 1065.2L1836.6 1047.9L1837.9 1029.4L1839.2 1010.1L1840.6 990.3L1841.9 970.5L1843.3 951.2L1844.6 932.8L1846.0 915.7L1847.3 900.4L1848.7 887.0L1850.0 876.0L1851.4 867.6L1852.7 862.0L1854.0 859.3L1855.4 859.5L1856.7 862.7L1858.1 868.8L1859.4 877.7L1860.8 889.1L1862.1 902.8L1863.5 918.5L1864.8 935.8L1866.1 954.4L1867.5 973.8L1868.8 993.6L1870.2 1013.3L1871.5 1032.6L1872.9 1050.9L1874.2 1067.9L1875.6 1083.1L1876.9 1096.3L1878.2 1107.1L1879.6 1115.4L1880.9 1120.8L1882.3 1123.3L1883.6 1122.9L1885.0 1119.5L1886.3 1113.2L1887.7 1104.1L1889.0 1092.6L1890.4 1078.7L1891.7 1062.9L1893.0 1045.5L1894.4 1026.8L1895.7 1007.4L1897.1 987.6L1898.4 967.9L1899.8 948.7L1901.1 930.4L1902.5 913.6L1903.8 898.4L1905.1 885.4L1906.5 874.7L1907.8 866.7L1909.2 861.4L1910.5 859.1L1911.9 859.8L1913.2 863.4L1914.6 869.9L1915.9 879.1L1917.3 890.8L1918.6 904.8L1919.9 920.7L1921.3 938.2L1922.6 956.9L1924.0 976.4L1925.3 996.2L1926.7 1016.0L1928.0 1035.1L1929.4 1053.3L1930.7 1070.0L1932.0 1085.0L1933.4 1097.9L1934.7 1108.4L1936.1 1116.3L1937.4 1121.3L1938.8 1123.4L1940.1 1122.6L1941.5 1118.8L1942.8 1112.1L1944.2 1102.7L1945.5 1090.8L1946.8 1076.7L1948.2 1060.6L1949.5 1043.0L1950.9 1024.3L1952.2 1004.7L1953.6 984.9L1954.9 965.2L1956.3 946.1L1957.6 928.1L1958.9 911.4L1960.3 896.5L1961.6 883.8L1963.0 873.5L1964.3 865.8L1965.7 861.0L1967.0 859.0L1968.4 860.1L1969.7 864.1L1971.0 870.9L1972.4 880.5L1973.7 892.6L1975.1 906.8L1976.4 923.0L1977.8 940.7L1979.1 959.5L1980.5 979.1L1981.8 998.9L1983.2 1018.6L1984.5 1037.6L1985.8 1055.6L1987.2 1072.2L1988.5 1086.9L1989.9 1099.5L1991.2 1109.6L1992.6 1117.1L1993.9 1121.8L1995.3 1123.5L1996.6 1122.2L1997.9 1118.0L1999.3 1111.0L2000.6 1101.3L2002.0 1089.0L2003.3 1074.6L2004.7 1058.3L2006.0 1040.6L2007.4 1021.6L2008.7 1002.1L2010.1 982.2L2011.4 962.6L2012.7 943.6L2014.1 925.7L2015.4 909.3L2016.8 894.7L2018.1 882.3L2019.5 872.3L2020.8 865.0L2022.2 860.5L2023.5 859.0L2024.8 860.5L2026.2 864.8L2027.5 872.1L2028.9 882.0L2030.2 894.4L2031.6 908.9L2032.9 925.3L2034.3 943.2L2035.6 962.2L2037.0 981.8L2038.3 1001.6L2039.6 1021.2L2041.0 1040.1L2042.3 1058.0L2043.7 1074.3L2045.0 1088.7L2046.4 1101.0L2047.7 1110.8L2049.1 1117.9L2050.4 1122.2L2051.7 1123.5L2053.1 1121.8L2054.4 1117.3L2055.8 1109.8L2057.1 1099.7L2058.5 1087.2L2059.8 1072.5L2061.2 1056.0L2062.5 1038.1L2063.9 1019.0L2065.2 999.4L2066.5 979.6L2067.9 960.0L2069.2 941.1L2070.6 923.4L2071.9 907.2L2073.3 892.9L2074.6 880.8L2076.0 871.1L2077.3 864.2L2078.6 860.1L2080.0 859.0L2081.3 860.9L2082.7 865.7L2084.0 873.3L2085.4 883.5L2086.7 896.2L2088.1 911.0L2089.4 927.7L2090.7 945.7L2092.1 964.8L2093.4 984.5L2094.8 1004.3L2096.1 1023.8L2097.5 1042.6L2098.8 1060.3L2100.2 1076.3L2101.5 1090.5L2102.9 1102.5L2104.2 1111.9L2105.5 1118.7L2106.9 1122.5L2108.2 1123.4L2109.6 1121.4L2110.9 1116.4L2112.3 1108.6L2113.6 1098.2L2115.0 1085.3L2116.3 1070.4L2117.6 1053.7L2119.0 1035.5L2120.3 1016.4L2121.7 996.7L2123.0 976.9L2124.4 957.4L2125.7 938.7L2127.1 921.1L2128.4 905.1L2129.8 891.1L2131.1 879.3L2132.4 870.0L2133.8 863.5L2135.1 859.8L2136.5 859.1L2137.8 861.4L2139.2 866.5L2140.5 874.5L2141.9 885.1L2143.2 898.1L2144.5 913.2L2145.9 930.0L2147.2 948.2L2148.6 967.4L2149.9 987.1L2151.3 1006.9L2152.6 1026.4L2154.0 1045.1L2155.3 1062.5L2156.7 1078.4L2158.0 1092.3L2159.3 1103.9L2160.7 1113.0L2162.0 1119.4L2163.4 1122.8L2164.7 1123.3L2166.1 1120.9L2167.4 1115.5L2168.8 1107.4L2170.1 1096.6L2171.4 1083.4L2172.8 1068.2L2174.1 1051.3L2175.5 1033.0L2176.8 1013.8L2178.2 994.0L2179.5 974.2L2180.9 954.8L2182.2 936.2L2183.6 918.8L2184.9 903.1L2186.2 889.4L2187.6 877.9L2188.9 869.0L2190.3 862.8L2191.6 859.5L2193.0 859.2L2194.3 861.9L2195.7 867.4L2197.0 875.8"/>
<path stroke="#0072b2" d="M362.5 594.5L2197.0 594.5"/>
<path stroke="#000" stroke-dasharray="18 23" d="M362.5 594.5L363.8 595.5L365.2 599.4L366.5 606.2L367.9 615.6L369.2 627.5L370.5 641.7L371.9 657.7L373.2 675.3L374.6 694.1L375.9 713.6L377.2 733.5L378.6 753.4L379.9 772.7L381.2 791.1L382.6 808.2L383.9 823.7L385.3 837.3L386.6 848.6L387.9 857.5L389.3 863.7L390.6 867.3L392.0 868.2L393.3 866.3L394.6 861.8L396.0 854.7L397.3 845.4L398.7 833.9L400.0 820.7L401.3 806.1L402.7 790.3L404.0 773.8L405.4 756.9L406.7 740.1L408.0 723.8L409.4 708.2L410.7 693.9L412.0 681.0L413.4 669.9L414.7 660.9L416.1 654.1L417.4 649.7L418.7 647.8L420.1 648.4L421.4 651.5L422.8 657.1L424.1 665.0L425.4 675.1L426.8 687.0L428.1 700.6L429.5 715.6L430.8 731.6L432.1 748.2L433.5 765.2L434.8 782.1L436.2 798.6L437.5 814.4L438.8 829.1L440.2 842.3L441.5 853.9L442.8 863.7L444.2 871.3L445.5 876.7L446.9 879.8L448.2 880.5L449.5 878.9L450.9 875.0L452.2 869.0L453.6 860.9L454.9 851.1L456.2 839.7L457.6 827.1L458.9 813.5L460.3 799.2L461.6 784.7L462.9 770.1L464.3 756.0L465.6 742.5L467.0 730.0L468.3 718.8L469.6 709.1L471.0 701.2L472.3 695.1L473.6 691.2L475.0 689.4L476.3 689.7L477.7 692.2L479.0 696.8L480.3 703.5L481.7 711.9L483.0 722.0L484.4 733.6L485.7 746.3L487.0 759.9L488.4 774.1L489.7 788.6L491.1 803.1L492.4 817.2L493.7 830.7L495.1 843.3L496.4 854.7L497.8 864.6L499.1 873.0L500.4 879.6L501.8 884.2L503.1 886.9L504.4 887.5L505.8 886.2L507.1 882.9L508.5 877.7L509.8 870.8L511.1 862.3L512.5 852.5L513.8 841.7L515.2 829.9L516.5 817.6L517.8 805.1L519.2 792.5L520.5 780.2L521.9 768.6L523.2 757.7L524.5 748.0L525.9 739.5L527.2 732.6L528.6 727.3L529.9 723.7L531.2 722.0L532.6 722.1L533.9 724.2L535.2 728.0L536.6 733.5L537.9 740.6L539.3 749.2L540.6 759.0L541.9 769.8M541.9 769.8L543.3 781.5L544.6 793.6L546.0 806.0L547.3 818.4L548.6 830.5L550.0 842.0L551.3 852.8L552.7 862.6L554.0 871.2L555.3 878.3L556.7 884.0L558.0 888.0L559.4 890.3L560.7 890.9L562.0 889.8L563.4 887.0L564.7 882.5L566.0 876.6L567.4 869.4L568.7 860.9L570.1 851.6L571.4 841.5L572.7 830.9L574.1 820.0L575.4 809.2L576.8 798.6L578.1 788.5L579.4 779.1L580.8 770.6L582.1 763.3L583.5 757.2L584.8 752.5L586.1 749.3L587.5 747.7L588.8 747.7L590.2 749.4L591.5 752.5L592.8 757.2L594.2 763.2L595.5 770.5L596.8 778.8L598.2 788.0L599.5 797.9L600.9 808.3L602.2 818.9L603.5 829.5L604.9 839.8L606.2 849.8L607.6 859.0L608.9 867.4L610.2 874.8L611.6 881.0L612.9 885.9L614.3 889.3L615.6 891.4L616.9 891.9L618.3 890.9L619.6 888.5L621.0 884.7L622.3 879.7L623.6 873.5L625.0 866.2L626.3 858.2L627.6 849.5L629.0 840.4L630.3 831.0L631.7 821.7L633.0 812.5L634.3 803.8L635.7 795.6L637.0 788.3L638.4 781.9L639.7 776.6L641.0 772.4L642.4 769.6L643.7 768.2L645.1 768.1L646.4 769.4L647.7 772.0L649.1 775.9L650.4 781.0L651.8 787.1L653.1 794.2L654.4 802.1L655.8 810.5L657.1 819.4L658.4 828.4L659.8 837.5L661.1 846.4L662.5 854.9L663.8 862.9L665.1 870.1L666.5 876.5L667.8 881.8L669.2 886.0L670.5 889.0L671.8 890.8L673.2 891.3L674.5 890.5L675.9 888.4L677.2 885.2L678.5 880.9L679.9 875.6L681.2 869.4L682.6 862.5L683.9 855.0L685.2 847.1L686.6 839.1L687.9 831.0L689.3 823.1L690.6 815.5L691.9 808.5L693.3 802.1L694.6 796.6L695.9 791.9L697.3 788.3L698.6 785.8L700.0 784.5L701.3 784.3L702.6 785.3L704.0 787.5L705.3 790.8L706.7 795.1L708.0 800.3L709.3 806.4L710.7 813.0L712.0 820.3L713.4 827.8L714.7 835.6L716.0 843.4L717.4 851.0L718.7 858.3L720.1 865.1L721.4 871.4M721.4 871.4L722.7 876.8L724.1 881.4L725.4 885.1L726.7 887.7L728.1 889.2L729.4 889.7L730.8 889.0L732.1 887.3L733.4 884.6L734.8 880.9L736.1 876.3L737.5 871.0L738.8 865.1L740.1 858.6L741.5 851.9L742.8 845.0L744.2 838.0L745.5 831.2L746.8 824.6L748.2 818.5L749.5 813.0L750.9 808.2L752.2 804.1L753.5 801.0L754.9 798.8L756.2 797.6L757.5 797.4L758.9 798.2L760.2 800.0L761.6 802.7L762.9 806.4L764.2 810.8L765.6 815.9L766.9 821.7L768.3 827.8L769.6 834.3L770.9 840.9L772.3 847.6L773.6 854.1L775.0 860.4L776.3 866.3L777.6 871.6L779.0 876.4L780.3 880.3L781.7 883.5L783.0 885.8L784.3 887.1L785.7 887.5L787.0 887.0L788.3 885.5L789.7 883.2L791.0 880.0L792.4 876.1L793.7 871.6L795.0 866.5L796.4 861.0L797.7 855.2L799.1 849.2L800.4 843.2L801.7 837.4L803.1 831.7L804.4 826.4L805.8 821.6L807.1 817.4L808.4 813.9L809.8 811.2L811.1 809.2L812.5 808.1L813.8 807.9L815.1 808.5L816.5 810.0L817.8 812.4L819.1 815.4L820.5 819.2L821.8 823.6L823.2 828.4L824.5 833.7L825.8 839.2L827.2 844.9L828.5 850.7L829.9 856.3L831.2 861.7L832.5 866.7L833.9 871.3L835.2 875.4L836.6 878.8L837.9 881.6L839.2 883.5L840.6 884.7L841.9 885.1L843.3 884.7L844.6 883.4L845.9 881.5L847.3 878.8L848.6 875.4L849.9 871.5L851.3 867.2L852.6 862.4L854.0 857.4L855.3 852.3L856.6 847.2L858.0 842.1L859.3 837.2L860.7 832.7L862.0 828.5L863.3 824.9L864.7 821.8L866.0 819.4L867.4 817.7L868.7 816.7L870.0 816.4L871.4 817.0L872.7 818.2L874.1 820.1L875.4 822.8L876.7 826.0L878.1 829.7L879.4 833.8L880.7 838.3L882.1 843.1L883.4 848.0L884.8 852.9L886.1 857.7L887.4 862.3L888.8 866.7L890.1 870.6L891.5 874.1L892.8 877.1L894.1 879.5L895.5 881.2L896.8 882.2L898.2 882.6L899.5 882.2L900.8 881.2M900.8 881.2L902.2 879.5L903.5 877.2L904.9 874.4L906.2 871.0L907.5 867.3L908.9 863.2L910.2 859.0L911.5 854.5L912.9 850.1L914.2 845.7L915.6 841.5L916.9 837.6L918.2 834.0L919.6 830.8L920.9 828.2L922.3 826.1L923.6 824.6L924.9 823.7L926.3 823.4L927.6 823.8L929.0 824.9L930.3 826.5L931.6 828.7L933.0 831.4L934.3 834.6L935.7 838.2L937.0 842.0L938.3 846.1L939.7 850.2L941.0 854.4L942.3 858.6L943.7 862.6L945.0 866.3L946.4 869.7L947.7 872.8L949.0 875.3L950.4 877.4L951.7 878.9L953.1 879.8L954.4 880.1L955.7 879.8L957.1 879.0L958.4 877.5L959.8 875.6L961.1 873.1L962.4 870.3L963.8 867.1L965.1 863.6L966.5 859.9L967.8 856.1L969.1 852.3L970.5 848.5L971.8 844.9L973.1 841.5L974.5 838.4L975.8 835.7L977.2 833.4L978.5 831.5L979.8 830.2L981.2 829.4L982.5 829.2L983.9 829.5L985.2 830.3L986.5 831.7L987.9 833.6L989.2 835.9L990.6 838.6L991.9 841.6L993.2 844.9L994.6 848.4L995.9 852.0L997.3 855.6L998.6 859.1L999.9 862.6L1001.3 865.8L1002.6 868.7L1003.9 871.3L1005.3 873.6L1006.6 875.3L1008.0 876.6L1009.3 877.4L1010.6 877.7L1012.0 877.5L1013.3 876.8L1014.7 875.6L1016.0 873.9L1017.3 871.8L1018.7 869.4L1020.0 866.7L1021.4 863.7L1022.7 860.5L1024.0 857.3L1025.4 854.0L1026.7 850.7L1028.1 847.6L1029.4 844.7L1030.7 842.0L1032.1 839.6L1033.4 837.6L1034.7 836.0L1036.1 834.8L1037.4 834.1L1038.8 833.9L1040.1 834.1L1041.4 834.8L1042.8 836.0L1044.1 837.6L1045.5 839.6L1046.8 841.9L1048.1 844.4L1049.5 847.3L1050.8 850.2L1052.2 853.3L1053.5 856.4L1054.8 859.5L1056.2 862.4L1057.5 865.2L1058.9 867.7L1060.2 870.0L1061.5 871.9L1062.9 873.4L1064.2 874.6L1065.5 875.3L1066.9 875.5L1068.2 875.4L1069.6 874.8L1070.9 873.7L1072.2 872.3L1073.6 870.6L1074.9 868.5L1076.3 866.1L1077.6 863.6L1078.9 860.8L1080.3 858.0M1080.3 858.0L1081.6 855.2L1083.0 852.4L1084.3 849.7L1085.6 847.2L1087.0 844.9L1088.3 842.8L1089.7 841.1L1091.0 839.7L1092.3 838.6L1093.7 838.0L1095.0 837.8L1096.3 838.0L1097.7 838.6L1099.0 839.6L1100.4 840.9L1101.7 842.6L1103.0 844.5L1104.4 846.7L1105.7 849.1L1107.1 851.7L1108.4 854.3L1109.7 857.0L1111.1 859.6L1112.4 862.1L1113.8 864.5L1115.1 866.7L1116.4 868.7L1117.8 870.3L1119.1 871.7L1120.5 872.6L1121.8 873.3L1123.1 873.5L1124.5 873.4L1125.8 872.9L1127.1 872.0L1128.5 870.8L1129.8 869.3L1131.2 867.5L1132.5 865.5L1133.8 863.3L1135.2 861.0L1136.5 858.6L1137.9 856.1L1139.2 853.7L1140.5 851.4L1141.9 849.2L1143.2 847.2L1144.6 845.4L1145.9 843.9L1147.2 842.7L1148.6 841.8L1149.9 841.3L1151.3 841.1L1152.6 841.2L1153.9 841.7L1155.3 842.5L1156.6 843.6L1157.9 845.1L1159.3 846.7L1160.6 848.6L1162.0 850.7L1163.3 852.9L1164.6 855.1L1166.0 857.4L1167.3 859.7L1168.7 861.8L1170.0 863.9L1171.3 865.8L1172.7 867.5L1174.0 868.9L1175.4 870.1L1176.7 870.9L1178.0 871.5L1179.4 871.7L1180.7 871.6L1182.1 871.2L1183.4 870.4L1184.7 869.4L1186.1 868.1L1187.4 866.6L1188.7 864.9L1190.1 863.0L1191.4 861.0L1192.8 858.9L1194.1 856.8L1195.4 854.8L1196.8 852.8L1198.1 850.9L1199.5 849.2L1200.8 847.6L1202.1 846.3L1203.5 845.2L1204.8 844.5L1206.2 844.0L1207.5 843.8L1208.8 843.9L1210.2 844.3L1211.5 845.0L1212.9 845.9L1214.2 847.1L1215.5 848.6L1216.9 850.2L1218.2 851.9L1219.5 853.8L1220.9 855.7L1222.2 857.7L1223.6 859.6L1224.9 861.5L1226.2 863.3L1227.6 864.9L1228.9 866.4L1230.3 867.6L1231.6 868.6L1232.9 869.4L1234.3 869.8L1235.6 870.1L1237.0 870.0L1238.3 869.6L1239.6 869.0L1241.0 868.1L1242.3 867.0L1243.7 865.7L1245.0 864.3L1246.3 862.7L1247.7 860.9L1249.0 859.2L1250.3 857.4L1251.7 855.6L1253.0 853.9L1254.4 852.2L1255.7 850.7L1257.0 849.4L1258.4 848.3L1259.7 847.3M1259.7 847.3L1261.1 846.7L1262.4 846.2L1263.7 846.0L1265.1 846.1L1266.4 846.5L1267.8 847.0L1269.1 847.9L1270.4 848.9L1271.8 850.1L1273.1 851.5L1274.5 853.0L1275.8 854.6L1277.1 856.2L1278.5 857.9L1279.8 859.6L1281.1 861.2L1282.5 862.7L1283.8 864.1L1285.2 865.4L1286.5 866.5L1287.8 867.3L1289.2 868.0L1290.5 868.4L1291.9 868.6L1293.2 868.5L1294.5 868.2L1295.9 867.7L1297.2 867.0L1298.6 866.0L1299.9 864.9L1301.2 863.7L1302.6 862.3L1303.9 860.8L1305.3 859.3L1306.6 857.8L1307.9 856.2L1309.3 854.7L1310.6 853.3L1311.9 852.0L1313.3 850.9L1314.6 849.9L1316.0 849.1L1317.3 848.5L1318.6 848.1L1320.0 847.9L1321.3 848.0L1322.7 848.3L1324.0 848.8L1325.3 849.5L1326.7 850.3L1328.0 851.4L1329.4 852.6L1330.7 853.8L1332.0 855.2L1333.4 856.6L1334.7 858.1L1336.1 859.5L1337.4 860.9L1338.7 862.2L1340.1 863.4L1341.4 864.5L1342.8 865.4L1344.1 866.2L1345.4 866.8L1346.8 867.1L1348.1 867.3L1349.4 867.3L1350.8 867.0L1352.1 866.6L1353.5 866.0L1354.8 865.2L1356.1 864.2L1357.5 863.1L1358.8 861.9L1360.2 860.7L1361.5 859.4L1362.8 858.0L1364.2 856.7L1365.5 855.5L1366.9 854.2L1368.2 853.1L1369.5 852.1L1370.9 851.3L1372.2 850.6L1373.6 850.1L1374.9 849.7L1376.2 849.6L1377.6 849.6L1378.9 849.8L1380.2 850.2L1381.6 850.8L1382.9 851.6L1384.3 852.4L1385.6 853.5L1386.9 854.6L1388.3 855.7L1389.6 857.0L1391.0 858.2L1392.3 859.4L1393.6 860.6L1395.0 861.7L1396.3 862.8L1397.7 863.7L1399.0 864.5L1400.3 865.2L1401.7 865.7L1403.0 866.0L1404.4 866.2L1405.7 866.1L1407.0 865.9L1408.4 865.6L1409.7 865.0L1411.0 864.4L1412.4 863.5L1413.7 862.6L1415.1 861.6L1416.4 860.5L1417.7 859.4L1419.1 858.3L1420.4 857.1L1421.8 856.0L1423.1 855.0L1424.4 854.0L1425.8 853.2L1427.1 852.4L1428.5 851.8L1429.8 851.4L1431.1 851.1L1432.5 850.9L1433.8 850.9L1435.2 851.1L1436.5 851.5L1437.8 852.0L1439.2 852.6M1439.2 852.6L1440.5 853.4L1441.8 854.2L1443.2 855.2L1444.5 856.2L1445.9 857.2L1447.2 858.3L1448.5 859.3L1449.9 860.4L1451.2 861.3L1452.6 862.2L1453.9 863.0L1455.2 863.7L1456.6 864.3L1457.9 864.7L1459.3 865.0L1460.6 865.2L1461.9 865.1L1463.3 865.0L1464.6 864.7L1466.0 864.2L1467.3 863.6L1468.6 862.9L1470.0 862.2L1471.3 861.3L1472.6 860.4L1474.0 859.4L1475.3 858.4L1476.7 857.4L1478.0 856.5L1479.3 855.6L1480.7 854.8L1482.0 854.0L1483.4 853.4L1484.7 852.9L1486.0 852.5L1487.4 852.2L1488.7 852.1L1490.1 852.1L1491.4 852.2L1492.7 852.5L1494.1 852.9L1495.4 853.5L1496.8 854.1L1498.1 854.9L1499.4 855.7L1500.8 856.5L1502.1 857.4L1503.4 858.3L1504.8 859.2L1506.1 860.1L1507.5 861.0L1508.8 861.7L1510.1 862.4L1511.5 863.0L1512.8 863.5L1514.2 863.9L1515.5 864.2L1516.8 864.3L1518.2 864.3L1519.5 864.1L1520.9 863.9L1522.2 863.5L1523.5 863.0L1524.9 862.4L1526.2 861.7L1527.6 861.0L1528.9 860.2L1530.2 859.4L1531.6 858.5L1532.9 857.7L1534.2 856.9L1535.6 856.1L1536.9 855.4L1538.3 854.7L1539.6 854.2L1540.9 853.7L1542.3 853.4L1543.6 853.2L1545.0 853.0L1546.3 853.0L1547.6 853.2L1549.0 853.4L1550.3 853.8L1551.7 854.2L1553.0 854.8L1554.3 855.4L1555.7 856.1L1557.0 856.8L1558.4 857.6L1559.7 858.4L1561.0 859.2L1562.4 859.9L1563.7 860.6L1565.0 861.3L1566.4 861.9L1567.7 862.4L1569.1 862.9L1570.4 863.2L1571.7 863.4L1573.1 863.5L1574.4 863.5L1575.8 863.4L1577.1 863.2L1578.4 862.9L1579.8 862.5L1581.1 861.9L1582.5 861.4L1583.8 860.7L1585.1 860.1L1586.5 859.3L1587.8 858.6L1589.2 857.9L1590.5 857.2L1591.8 856.5L1593.2 855.9L1594.5 855.4L1595.8 854.9L1597.2 854.5L1598.5 854.2L1599.9 854.0L1601.2 853.9L1602.5 853.9L1603.9 854.0L1605.2 854.2L1606.6 854.5L1607.9 854.9L1609.2 855.3L1610.6 855.9L1611.9 856.5L1613.3 857.1L1614.6 857.7L1615.9 858.4L1617.3 859.1L1618.6 859.7M1618.6 859.7L1620.0 860.4L1621.3 860.9L1622.6 861.5L1624.0 861.9L1625.3 862.3L1626.6 862.6L1628.0 862.8L1629.3 862.9L1630.7 862.9L1632.0 862.8L1633.3 862.6L1634.7 862.3L1636.0 862.0L1637.4 861.5L1638.7 861.0L1640.0 860.5L1641.4 859.9L1642.7 859.3L1644.1 858.7L1645.4 858.1L1646.7 857.5L1648.1 856.9L1649.4 856.3L1650.8 855.9L1652.1 855.5L1653.4 855.1L1654.8 854.8L1656.1 854.7L1657.4 854.6L1658.8 854.6L1660.1 854.6L1661.5 854.8L1662.8 855.1L1664.1 855.4L1665.5 855.8L1666.8 856.3L1668.2 856.8L1669.5 857.3L1670.8 857.9L1672.2 858.5L1673.5 859.0L1674.9 859.6L1676.2 860.1L1677.5 860.6L1678.9 861.1L1680.2 861.5L1681.6 861.8L1682.9 862.0L1684.2 862.2L1685.6 862.3L1686.9 862.3L1688.2 862.2L1689.6 862.1L1690.9 861.8L1692.3 861.5L1693.6 861.2L1694.9 860.7L1696.3 860.3L1697.6 859.8L1699.0 859.3L1700.3 858.7L1701.6 858.2L1703.0 857.7L1704.3 857.2L1705.7 856.7L1707.0 856.3L1708.3 855.9L1709.7 855.6L1711.0 855.4L1712.4 855.2L1713.7 855.2L1715.0 855.2L1716.4 855.2L1717.7 855.4L1719.0 855.6L1720.4 855.9L1721.7 856.2L1723.1 856.6L1724.4 857.0L1725.7 857.5L1727.1 858.0L1728.4 858.5L1729.8 859.0L1731.1 859.5L1732.4 859.9L1733.8 860.3L1735.1 860.7L1736.5 861.1L1737.8 861.4L1739.1 861.6L1740.5 861.7L1741.8 861.8L1743.2 861.8L1744.5 861.7L1745.8 861.6L1747.2 861.4L1748.5 861.2L1749.8 860.8L1751.2 860.5L1752.5 860.1L1753.9 859.7L1755.2 859.2L1756.5 858.8L1757.9 858.3L1759.2 857.8L1760.6 857.4L1761.9 857.0L1763.2 856.7L1764.6 856.4L1765.9 856.1L1767.3 855.9L1768.6 855.7L1769.9 855.7L1771.3 855.7L1772.6 855.7L1774.0 855.8L1775.3 856.0L1776.6 856.3L1778.0 856.6L1779.3 856.9L1780.6 857.3L1782.0 857.7L1783.3 858.1L1784.7 858.5L1786.0 858.9L1787.3 859.3L1788.7 859.7L1790.0 860.1L1791.4 860.4L1792.7 860.7L1794.0 861.0L1795.4 861.2L1796.7 861.3L1798.1 861.4M1798.1 861.4L1799.4 861.4L1800.7 861.3L1802.1 861.2L1803.4 861.1L1804.8 860.8L1806.1 860.6L1807.4 860.3L1808.8 859.9L1810.1 859.5L1811.4 859.2L1812.8 858.8L1814.1 858.4L1815.5 858.0L1816.8 857.6L1818.1 857.3L1819.5 857.0L1820.8 856.7L1822.2 856.5L1823.5 856.3L1824.8 856.2L1826.2 856.1L1827.5 856.1L1828.9 856.1L1830.2 856.2L1831.5 856.4L1832.9 856.6L1834.2 856.8L1835.6 857.1L1836.9 857.5L1838.2 857.8L1839.6 858.1L1840.9 858.5L1842.2 858.9L1843.6 859.2L1844.9 859.6L1846.3 859.9L1847.6 860.2L1848.9 860.4L1850.3 860.7L1851.6 860.8L1853.0 860.9L1854.3 861.0L1855.6 861.0L1857.0 861.0L1858.3 860.9L1859.7 860.7L1861.0 860.5L1862.3 860.3L1863.7 860.1L1865.0 859.8L1866.4 859.4L1867.7 859.1L1869.0 858.8L1870.4 858.4L1871.7 858.1L1873.0 857.8L1874.4 857.5L1875.7 857.2L1877.1 857.0L1878.4 856.8L1879.7 856.6L1881.1 856.5L1882.4 856.5L1883.8 856.5L1885.1 856.5L1886.4 856.6L1887.8 856.7L1889.1 856.9L1890.5 857.1L1891.8 857.3L1893.1 857.6L1894.5 857.9L1895.8 858.2L1897.2 858.5L1898.5 858.8L1899.8 859.2L1901.2 859.4L1902.5 859.7L1903.8 860.0L1905.2 860.2L1906.5 860.4L1907.9 860.5L1909.2 860.6L1910.5 860.7L1911.9 860.7L1913.2 860.7L1914.6 860.6L1915.9 860.5L1917.2 860.3L1918.6 860.1L1919.9 859.9L1921.3 859.6L1922.6 859.4L1923.9 859.1L1925.3 858.8L1926.6 858.5L1928.0 858.2L1929.3 857.9L1930.6 857.7L1932.0 857.5L1933.3 857.2L1934.6 857.1L1936.0 856.9L1937.3 856.9L1938.7 856.8L1940.0 856.8L1941.3 856.8L1942.7 856.9L1944.0 857.0L1945.4 857.1L1946.7 857.3L1948.0 857.5L1949.4 857.8L1950.7 858.0L1952.1 858.3L1953.4 858.5L1954.7 858.8L1956.1 859.1L1957.4 859.3L1958.8 859.6L1960.1 859.8L1961.4 860.0L1962.8 860.1L1964.1 860.3L1965.4 860.3L1966.8 860.4L1968.1 860.4L1969.5 860.4L1970.8 860.3L1972.1 860.2L1973.5 860.1L1974.8 859.9L1976.2 859.7L1977.5 859.5M1977.5 859.5L1978.8 859.3L1980.2 859.0L1981.5 858.8L1982.9 858.5L1984.2 858.3L1985.5 858.1L1986.9 857.8L1988.2 857.6L1989.6 857.5L1990.9 857.3L1992.2 857.2L1993.6 857.1L1994.9 857.1L1996.3 857.1L1997.6 857.1L1998.9 857.1L2000.3 857.2L2001.6 857.4L2002.9 857.5L2004.3 857.7L2005.6 857.9L2007.0 858.1L2008.3 858.3L2009.6 858.6L2011.0 858.8L2012.3 859.0L2013.7 859.2L2015.0 859.4L2016.3 859.6L2017.7 859.8L2019.0 859.9L2020.4 860.0L2021.7 860.1L2023.0 860.2L2024.4 860.2L2025.7 860.1L2027.1 860.1L2028.4 860.0L2029.7 859.9L2031.1 859.8L2032.4 859.6L2033.7 859.4L2035.1 859.2L2036.4 859.0L2037.8 858.8L2039.1 858.6L2040.4 858.4L2041.8 858.2L2043.1 858.0L2044.5 857.8L2045.8 857.6L2047.1 857.5L2048.5 857.4L2049.8 857.3L2051.2 857.3L2052.5 857.3L2053.8 857.3L2055.2 857.4L2056.5 857.4L2057.9 857.5L2059.2 857.7L2060.5 857.8L2061.9 858.0L2063.2 858.2L2064.5 858.4L2065.9 858.6L2067.2 858.8L2068.6 859.0L2069.9 859.2L2071.2 859.3L2072.6 859.5L2073.9 859.6L2075.3 859.8L2076.6 859.8L2077.9 859.9L2079.3 860.0L2080.6 860.0L2082.0 859.9L2083.3 859.9L2084.6 859.8L2086.0 859.7L2087.3 859.6L2088.7 859.5L2090.0 859.3L2091.3 859.1L2092.7 859.0L2094.0 858.8L2095.3 858.6L2096.7 858.4L2098.0 858.2L2099.4 858.1L2100.7 857.9L2102.0 857.8L2103.4 857.7L2104.7 857.6L2106.1 857.5L2107.4 857.5L2108.7 857.5L2110.1 857.5L2111.4 857.5L2112.8 857.6L2114.1 857.7L2115.4 857.8L2116.8 857.9L2118.1 858.1L2119.5 858.2L2120.8 858.4L2122.1 858.6L2123.5 858.8L2124.8 858.9L2126.1 859.1L2127.5 859.2L2128.8 859.4L2130.2 859.5L2131.5 859.6L2132.8 859.7L2134.2 859.7L2135.5 859.8L2136.9 859.8L2138.2 859.8L2139.5 859.7L2140.9 859.7L2142.2 859.6L2143.6 859.5L2144.9 859.4L2146.2 859.2L2147.6 859.1L2148.9 858.9L2150.3 858.8L2151.6 858.6L2152.9 858.5L2154.3 858.3L2155.6 858.2L2156.9 858.0M2156.9 858.0L2158.3 857.9L2159.6 857.8L2161.0 857.8L2162.3 857.7L2163.6 857.7L2165.0 857.7L2166.3 857.7L2167.6 857.7L2169.0 857.8L2170.3 857.8L2171.6 857.9L2173.0 858.0L2174.3 858.2L2175.6 858.3L2177.0 858.4L2178.3 858.6L2179.6 858.7L2181.0 858.9L2182.3 859.0L2183.6 859.1L2185.0 859.3L2186.3 859.4L2187.7 859.5L2189.0 859.5L2190.3 859.6L2191.7 859.6L2193.0 859.6L2194.3 859.6L2195.7 859.6L2197.0 859.5"/>
<path stroke="#e51e10" stroke-dasharray="18 23" d="M362.5 1123.5L363.8 1122.5L365.2 1118.6L366.5 1112.0L367.9 1102.8L369.2 1091.2L370.5 1077.6L371.9 1062.4L373.2 1045.8L374.6 1028.2L375.9 1010.2L377.2 992.1L378.6 974.3L379.9 957.3L381.2 941.4L382.6 927.0L383.9 914.4L385.3 904.0L386.6 895.9L387.9 890.3L389.3 887.5L390.6 887.3L392.0 889.8L393.3 895.1L394.6 902.8L396.0 913.0L397.3 925.3L398.7 939.5L400.0 955.2L401.3 972.2L402.7 990.1L404.0 1008.4L405.4 1026.7L406.7 1044.8L408.0 1062.2L409.4 1078.5L410.7 1093.4L412.0 1106.6L413.4 1117.9L414.7 1126.9L416.1 1133.6L417.4 1137.8L418.7 1139.5L420.1 1138.6L421.4 1135.3L422.8 1129.6L424.1 1121.7L425.4 1111.7L426.8 1100.0L428.1 1086.9L429.5 1072.5L430.8 1057.4L432.1 1041.8L433.5 1026.1L434.8 1010.7L436.2 995.9L437.5 982.1L438.8 969.6L440.2 958.6L441.5 949.5L442.8 942.3L444.2 937.3L445.5 934.7L446.9 934.3L448.2 936.3L449.5 940.6L450.9 947.1L452.2 955.6L453.6 966.0L454.9 978.0L456.2 991.4L457.6 1005.8L458.9 1021.0L460.3 1036.7L461.6 1052.4L462.9 1067.8L464.3 1082.7L465.6 1096.7L467.0 1109.4L468.3 1120.8L469.6 1130.4L471.0 1138.2L472.3 1143.9L473.6 1147.6L475.0 1149.0L476.3 1148.3L477.7 1145.5L479.0 1140.6L480.3 1133.8L481.7 1125.2L483.0 1115.2L484.4 1103.8L485.7 1091.5L487.0 1078.4L488.4 1064.9L489.7 1051.4L491.1 1038.1L492.4 1025.2L493.7 1013.3L495.1 1002.4L496.4 992.8L497.8 984.8L499.1 978.5L500.4 974.0L501.8 971.6L503.1 971.1L504.4 972.6L505.8 976.2L507.1 981.6L508.5 988.8L509.8 997.5L511.1 1007.7L512.5 1019.1L513.8 1031.4L515.2 1044.4L516.5 1057.7L517.8 1071.2L519.2 1084.4L520.5 1097.1L521.9 1109.1L523.2 1120.1L524.5 1129.8L525.9 1138.1L527.2 1144.8L528.6 1149.7L529.9 1152.9L531.2 1154.2L532.6 1153.6L533.9 1151.1L535.2 1146.9L536.6 1141.1L537.9 1133.8L539.3 1125.1L540.6 1115.4L541.9 1104.7M541.9 1104.7L543.3 1093.5L544.6 1081.9L546.0 1070.1L547.3 1058.6L548.6 1047.5L550.0 1037.1L551.3 1027.7L552.7 1019.3L554.0 1012.3L555.3 1006.8L556.7 1002.9L558.0 1000.6L559.4 1000.1L560.7 1001.3L562.0 1004.1L563.4 1008.7L564.7 1014.7L566.0 1022.2L567.4 1030.8L568.7 1040.5L570.1 1051.0L571.4 1062.0L572.7 1073.4L574.1 1084.9L575.4 1096.3L576.8 1107.2L578.1 1117.4L579.4 1126.9L580.8 1135.2L582.1 1142.4L583.5 1148.1L584.8 1152.4L586.1 1155.1L587.5 1156.3L588.8 1155.8L590.2 1153.7L591.5 1150.1L592.8 1145.1L594.2 1138.9L595.5 1131.4L596.8 1123.0L598.2 1113.9L599.5 1104.2L600.9 1094.2L602.2 1084.1L603.5 1074.1L604.9 1064.5L606.2 1055.5L607.6 1047.3L608.9 1040.1L610.2 1034.0L611.6 1029.1L612.9 1025.6L614.3 1023.6L615.6 1023.0L616.9 1023.9L618.3 1026.3L619.6 1030.1L621.0 1035.2L622.3 1041.5L623.6 1048.8L625.0 1057.1L626.3 1066.0L627.6 1075.4L629.0 1085.2L630.3 1095.0L631.7 1104.7L633.0 1114.1L634.3 1122.9L635.7 1131.0L637.0 1138.2L638.4 1144.3L639.7 1149.3L641.0 1153.0L642.4 1155.4L643.7 1156.4L645.1 1156.0L646.4 1154.3L647.7 1151.2L649.1 1146.9L650.4 1141.5L651.8 1135.2L653.1 1128.0L654.4 1120.1L655.8 1111.8L657.1 1103.1L658.4 1094.4L659.8 1085.8L661.1 1077.6L662.5 1069.8L663.8 1062.6L665.1 1056.3L666.5 1051.0L667.8 1046.7L669.2 1043.7L670.5 1041.8L671.8 1041.2L673.2 1041.9L674.5 1043.9L675.9 1047.1L677.2 1051.4L678.5 1056.7L679.9 1062.9L681.2 1070.0L682.6 1077.6L683.9 1085.7L685.2 1094.0L686.6 1102.4L687.9 1110.7L689.3 1118.8L690.6 1126.3L691.9 1133.3L693.3 1139.5L694.6 1144.8L695.9 1149.1L697.3 1152.3L698.6 1154.4L700.0 1155.3L701.3 1155.0L702.6 1153.5L704.0 1150.9L705.3 1147.2L706.7 1142.6L708.0 1137.2L709.3 1131.0L710.7 1124.2L712.0 1117.0L713.4 1109.6L714.7 1102.1L716.0 1094.7L717.4 1087.5L718.7 1080.8L720.1 1074.6L721.4 1069.2M721.4 1069.2L722.7 1064.5L724.1 1060.8L725.4 1058.1L726.7 1056.4L728.1 1055.8L729.4 1056.4L730.8 1058.0L732.1 1060.6L733.4 1064.3L734.8 1068.8L736.1 1074.1L737.5 1080.1L738.8 1086.6L740.1 1093.5L741.5 1100.6L742.8 1107.8L744.2 1115.0L745.5 1121.9L746.8 1128.4L748.2 1134.4L749.5 1139.7L750.9 1144.3L752.2 1148.0L753.5 1150.8L754.9 1152.6L756.2 1153.4L757.5 1153.1L758.9 1151.9L760.2 1149.7L761.6 1146.6L762.9 1142.6L764.2 1137.9L765.6 1132.6L766.9 1126.8L768.3 1120.7L769.6 1114.3L770.9 1107.8L772.3 1101.4L773.6 1095.2L775.0 1089.4L776.3 1084.1L777.6 1079.3L779.0 1075.3L780.3 1072.0L781.7 1069.6L783.0 1068.2L784.3 1067.6L785.7 1068.0L787.0 1069.3L788.3 1071.6L789.7 1074.6L791.0 1078.5L792.4 1083.0L793.7 1088.1L795.0 1093.6L796.4 1099.5L797.7 1105.6L799.1 1111.8L800.4 1117.9L801.7 1123.9L803.1 1129.5L804.4 1134.6L805.8 1139.2L807.1 1143.1L808.4 1146.4L809.8 1148.8L811.1 1150.3L812.5 1151.1L813.8 1150.9L815.1 1149.8L816.5 1148.0L817.8 1145.3L819.1 1142.0L820.5 1137.9L821.8 1133.4L823.2 1128.4L824.5 1123.1L825.8 1117.6L827.2 1112.1L828.5 1106.5L829.9 1101.2L831.2 1096.2L832.5 1091.6L833.9 1087.4L835.2 1083.9L836.6 1081.1L837.9 1079.0L839.2 1077.7L840.6 1077.1L841.9 1077.4L843.3 1078.5L844.6 1080.4L845.9 1083.0L847.3 1086.2L848.6 1090.1L849.9 1094.4L851.3 1099.2L852.6 1104.2L854.0 1109.4L855.3 1114.7L856.6 1120.0L858.0 1125.1L859.3 1129.9L860.7 1134.3L862.0 1138.3L863.3 1141.7L864.7 1144.5L866.0 1146.6L867.4 1147.9L868.7 1148.6L870.0 1148.4L871.4 1147.6L872.7 1146.0L874.1 1143.7L875.4 1140.9L876.7 1137.4L878.1 1133.5L879.4 1129.3L880.7 1124.7L882.1 1120.0L883.4 1115.2L884.8 1110.4L886.1 1105.8L887.4 1101.5L888.8 1097.5L890.1 1093.9L891.5 1090.9L892.8 1088.4L894.1 1086.6L895.5 1085.4L896.8 1084.9L898.2 1085.1L899.5 1086.0L900.8 1087.6M900.8 1087.6L902.2 1089.7L903.5 1092.5L904.9 1095.8L906.2 1099.5L907.5 1103.5L908.9 1107.9L910.2 1112.3L911.5 1116.9L912.9 1121.4L914.2 1125.8L915.6 1129.9L916.9 1133.7L918.2 1137.1L919.6 1140.1L920.9 1142.5L922.3 1144.3L923.6 1145.5L924.9 1146.1L926.3 1146.0L927.6 1145.3L929.0 1143.9L930.3 1142.0L931.6 1139.5L933.0 1136.6L934.3 1133.3L935.7 1129.6L937.0 1125.7L938.3 1121.6L939.7 1117.5L941.0 1113.4L942.3 1109.5L943.7 1105.7L945.0 1102.3L946.4 1099.2L947.7 1096.5L949.0 1094.4L950.4 1092.7L951.7 1091.7L953.1 1091.2L954.4 1091.4L955.7 1092.1L957.1 1093.4L958.4 1095.3L959.8 1097.6L961.1 1100.4L962.4 1103.6L963.8 1107.0L965.1 1110.7L966.5 1114.6L967.8 1118.5L969.1 1122.3L970.5 1126.1L971.8 1129.7L973.1 1132.9L974.5 1135.9L975.8 1138.4L977.2 1140.5L978.5 1142.1L979.8 1143.1L981.2 1143.6L982.5 1143.6L983.9 1143.0L985.2 1141.9L986.5 1140.2L987.9 1138.1L989.2 1135.6L990.6 1132.8L991.9 1129.6L993.2 1126.3L994.6 1122.8L995.9 1119.2L997.3 1115.7L998.6 1112.3L999.9 1109.1L1001.3 1106.1L1002.6 1103.4L1003.9 1101.1L1005.3 1099.2L1006.6 1097.8L1008.0 1096.9L1009.3 1096.5L1010.6 1096.5L1012.0 1097.2L1013.3 1098.3L1014.7 1099.8L1016.0 1101.8L1017.3 1104.2L1018.7 1106.9L1020.0 1109.8L1021.4 1113.0L1022.7 1116.3L1024.0 1119.6L1025.4 1123.0L1026.7 1126.2L1028.1 1129.2L1029.4 1132.1L1030.7 1134.6L1032.1 1136.8L1033.4 1138.6L1034.7 1140.0L1036.1 1140.9L1037.4 1141.4L1038.8 1141.3L1040.1 1140.8L1041.4 1139.9L1042.8 1138.5L1044.1 1136.7L1045.5 1134.6L1046.8 1132.1L1048.1 1129.4L1049.5 1126.5L1050.8 1123.6L1052.2 1120.5L1053.5 1117.5L1054.8 1114.5L1056.2 1111.7L1057.5 1109.1L1058.9 1106.8L1060.2 1104.8L1061.5 1103.2L1062.9 1102.0L1064.2 1101.1L1065.5 1100.8L1066.9 1100.8L1068.2 1101.3L1069.6 1102.2L1070.9 1103.6L1072.2 1105.2L1073.6 1107.3L1074.9 1109.6L1076.3 1112.1L1077.6 1114.8L1078.9 1117.6L1080.3 1120.5M1080.3 1120.5L1081.6 1123.3L1083.0 1126.1L1084.3 1128.8L1085.6 1131.2L1087.0 1133.4L1088.3 1135.3L1089.7 1136.9L1091.0 1138.0L1092.3 1138.9L1093.7 1139.3L1095.0 1139.3L1096.3 1138.8L1097.7 1138.0L1099.0 1136.9L1100.4 1135.3L1101.7 1133.5L1103.0 1131.4L1104.4 1129.1L1105.7 1126.6L1107.1 1124.1L1108.4 1121.4L1109.7 1118.8L1111.1 1116.3L1112.4 1113.9L1113.8 1111.6L1115.1 1109.6L1116.4 1107.9L1117.8 1106.5L1119.1 1105.4L1120.5 1104.7L1121.8 1104.3L1123.1 1104.4L1124.5 1104.8L1125.8 1105.5L1127.1 1106.7L1128.5 1108.1L1129.8 1109.8L1131.2 1111.8L1132.5 1113.9L1133.8 1116.3L1135.2 1118.7L1136.5 1121.1L1137.9 1123.6L1139.2 1126.0L1140.5 1128.2L1141.9 1130.3L1143.2 1132.2L1144.6 1133.9L1145.9 1135.2L1147.2 1136.3L1148.6 1137.0L1149.9 1137.3L1151.3 1137.3L1152.6 1137.0L1153.9 1136.3L1155.3 1135.3L1156.6 1134.0L1157.9 1132.5L1159.3 1130.7L1160.6 1128.7L1162.0 1126.6L1163.3 1124.4L1164.6 1122.1L1166.0 1119.9L1167.3 1117.7L1168.7 1115.6L1170.0 1113.7L1171.3 1111.9L1172.7 1110.4L1174.0 1109.2L1175.4 1108.3L1176.7 1107.6L1178.0 1107.3L1179.4 1107.3L1180.7 1107.6L1182.1 1108.3L1183.4 1109.2L1184.7 1110.5L1186.1 1111.9L1187.4 1113.6L1188.7 1115.5L1190.1 1117.4L1191.4 1119.5L1192.8 1121.6L1194.1 1123.7L1195.4 1125.8L1196.8 1127.7L1198.1 1129.5L1199.5 1131.2L1200.8 1132.6L1202.1 1133.8L1203.5 1134.7L1204.8 1135.3L1206.2 1135.6L1207.5 1135.6L1208.8 1135.3L1210.2 1134.8L1211.5 1133.9L1212.9 1132.8L1214.2 1131.5L1215.5 1130.0L1216.9 1128.3L1218.2 1126.4L1219.5 1124.5L1220.9 1122.6L1222.2 1120.7L1223.6 1118.8L1224.9 1117.0L1226.2 1115.3L1227.6 1113.8L1228.9 1112.5L1230.3 1111.5L1231.6 1110.6L1232.9 1110.1L1234.3 1109.8L1235.6 1109.8L1237.0 1110.1L1238.3 1110.6L1239.6 1111.4L1241.0 1112.4L1242.3 1113.7L1243.7 1115.1L1245.0 1116.7L1246.3 1118.4L1247.7 1120.2L1249.0 1122.0L1250.3 1123.8L1251.7 1125.6L1253.0 1127.2L1254.4 1128.8L1255.7 1130.2L1257.0 1131.4L1258.4 1132.4L1259.7 1133.2M1259.7 1133.2L1261.1 1133.8L1262.4 1134.1L1263.7 1134.1L1265.1 1133.9L1266.4 1133.4L1267.8 1132.7L1269.1 1131.7L1270.4 1130.6L1271.8 1129.3L1273.1 1127.8L1274.5 1126.3L1275.8 1124.6L1277.1 1123.0L1278.5 1121.3L1279.8 1119.7L1281.1 1118.1L1282.5 1116.7L1283.8 1115.4L1285.2 1114.3L1286.5 1113.3L1287.8 1112.6L1289.2 1112.1L1290.5 1111.9L1291.9 1111.9L1293.2 1112.1L1294.5 1112.5L1295.9 1113.2L1297.2 1114.1L1298.6 1115.2L1299.9 1116.4L1301.2 1117.7L1302.6 1119.2L1303.9 1120.7L1305.3 1122.3L1306.6 1123.8L1307.9 1125.3L1309.3 1126.8L1310.6 1128.1L1311.9 1129.3L1313.3 1130.4L1314.6 1131.3L1316.0 1132.0L1317.3 1132.4L1318.6 1132.7L1320.0 1132.7L1321.3 1132.5L1322.7 1132.1L1324.0 1131.5L1325.3 1130.7L1326.7 1129.7L1328.0 1128.6L1329.4 1127.4L1330.7 1126.1L1332.0 1124.7L1333.4 1123.2L1334.7 1121.8L1336.1 1120.4L1337.4 1119.1L1338.7 1117.8L1340.1 1116.7L1341.4 1115.7L1342.8 1114.9L1344.1 1114.3L1345.4 1113.9L1346.8 1113.6L1348.1 1113.6L1349.4 1113.8L1350.8 1114.2L1352.1 1114.7L1353.5 1115.5L1354.8 1116.4L1356.1 1117.4L1357.5 1118.6L1358.8 1119.8L1360.2 1121.1L1361.5 1122.5L1362.8 1123.8L1364.2 1125.1L1365.5 1126.4L1366.9 1127.5L1368.2 1128.6L1369.5 1129.5L1370.9 1130.2L1372.2 1130.8L1373.6 1131.3L1374.9 1131.5L1376.2 1131.5L1377.6 1131.4L1378.9 1131.0L1380.2 1130.5L1381.6 1129.8L1382.9 1129.0L1384.3 1128.0L1385.6 1127.0L1386.9 1125.8L1388.3 1124.6L1389.6 1123.4L1391.0 1122.2L1392.3 1121.0L1393.6 1119.8L1395.0 1118.8L1396.3 1117.8L1397.7 1116.9L1399.0 1116.2L1400.3 1115.7L1401.7 1115.3L1403.0 1115.1L1404.4 1115.1L1405.7 1115.2L1407.0 1115.5L1408.4 1116.0L1409.7 1116.7L1411.0 1117.4L1412.4 1118.3L1413.7 1119.3L1415.1 1120.4L1416.4 1121.5L1417.7 1122.6L1419.1 1123.8L1420.4 1124.9L1421.8 1126.0L1423.1 1127.0L1424.4 1127.9L1425.8 1128.7L1427.1 1129.3L1428.5 1129.9L1429.8 1130.2L1431.1 1130.4L1432.5 1130.5L1433.8 1130.3L1435.2 1130.0L1436.5 1129.6L1437.8 1129.0L1439.2 1128.3M1439.2 1128.3L1440.5 1127.5L1441.8 1126.6L1443.2 1125.6L1444.5 1124.6L1445.9 1123.5L1447.2 1122.5L1448.5 1121.4L1449.9 1120.5L1451.2 1119.5L1452.6 1118.7L1453.9 1118.0L1455.2 1117.3L1456.6 1116.9L1457.9 1116.5L1459.3 1116.3L1460.6 1116.3L1461.9 1116.4L1463.3 1116.7L1464.6 1117.1L1466.0 1117.6L1467.3 1118.3L1468.6 1119.1L1470.0 1119.9L1471.3 1120.8L1472.6 1121.8L1474.0 1122.8L1475.3 1123.8L1476.7 1124.7L1478.0 1125.6L1479.3 1126.5L1480.7 1127.3L1482.0 1128.0L1483.4 1128.5L1484.7 1129.0L1486.0 1129.3L1487.4 1129.5L1488.7 1129.5L1490.1 1129.4L1491.4 1129.2L1492.7 1128.8L1494.1 1128.3L1495.4 1127.7L1496.8 1127.0L1498.1 1126.2L1499.4 1125.4L1500.8 1124.5L1502.1 1123.6L1503.4 1122.7L1504.8 1121.8L1506.1 1121.0L1507.5 1120.2L1508.8 1119.4L1510.1 1118.8L1511.5 1118.3L1512.8 1117.9L1514.2 1117.6L1515.5 1117.4L1516.8 1117.4L1518.2 1117.5L1519.5 1117.7L1520.9 1118.0L1522.2 1118.5L1523.5 1119.1L1524.9 1119.7L1526.2 1120.4L1527.6 1121.2L1528.9 1122.0L1530.2 1122.9L1531.6 1123.7L1532.9 1124.5L1534.2 1125.3L1535.6 1126.1L1536.9 1126.8L1538.3 1127.3L1539.6 1127.8L1540.9 1128.2L1542.3 1128.5L1543.6 1128.7L1545.0 1128.7L1546.3 1128.6L1547.6 1128.4L1549.0 1128.1L1550.3 1127.7L1551.7 1127.2L1553.0 1126.6L1554.3 1125.9L1555.7 1125.2L1557.0 1124.4L1558.4 1123.7L1559.7 1122.9L1561.0 1122.1L1562.4 1121.4L1563.7 1120.7L1565.0 1120.1L1566.4 1119.5L1567.7 1119.1L1569.1 1118.7L1570.4 1118.4L1571.7 1118.3L1573.1 1118.3L1574.4 1118.3L1575.8 1118.5L1577.1 1118.8L1578.4 1119.2L1579.8 1119.7L1581.1 1120.2L1582.5 1120.9L1583.8 1121.5L1585.1 1122.2L1586.5 1123.0L1587.8 1123.7L1589.2 1124.4L1590.5 1125.1L1591.8 1125.7L1593.2 1126.3L1594.5 1126.8L1595.8 1127.2L1597.2 1127.6L1598.5 1127.8L1599.9 1128.0L1601.2 1128.0L1602.5 1127.9L1603.9 1127.8L1605.2 1127.5L1606.6 1127.2L1607.9 1126.7L1609.2 1126.2L1610.6 1125.6L1611.9 1125.0L1613.3 1124.4L1614.6 1123.7L1615.9 1123.0L1617.3 1122.4L1618.6 1121.7M1618.6 1121.7L1620.0 1121.1L1621.3 1120.6L1622.6 1120.1L1624.0 1119.7L1625.3 1119.4L1626.6 1119.2L1628.0 1119.1L1629.3 1119.0L1630.7 1119.1L1632.0 1119.2L1633.3 1119.5L1634.7 1119.8L1636.0 1120.2L1637.4 1120.7L1638.7 1121.2L1640.0 1121.8L1641.4 1122.4L1642.7 1123.0L1644.1 1123.6L1645.4 1124.3L1646.7 1124.9L1648.1 1125.4L1649.4 1125.9L1650.8 1126.3L1652.1 1126.7L1653.4 1127.0L1654.8 1127.2L1656.1 1127.4L1657.4 1127.4L1658.8 1127.3L1660.1 1127.2L1661.5 1127.0L1662.8 1126.7L1664.1 1126.3L1665.5 1125.9L1666.8 1125.4L1668.2 1124.8L1669.5 1124.3L1670.8 1123.7L1672.2 1123.1L1673.5 1122.6L1674.9 1122.0L1676.2 1121.5L1677.5 1121.1L1678.9 1120.6L1680.2 1120.3L1681.6 1120.0L1682.9 1119.8L1684.2 1119.7L1685.6 1119.7L1686.9 1119.7L1688.2 1119.9L1689.6 1120.1L1690.9 1120.3L1692.3 1120.7L1693.6 1121.1L1694.9 1121.5L1696.3 1122.0L1697.6 1122.5L1699.0 1123.1L1700.3 1123.6L1701.6 1124.1L1703.0 1124.7L1704.3 1125.1L1705.7 1125.6L1707.0 1125.9L1708.3 1126.3L1709.7 1126.5L1711.0 1126.7L1712.4 1126.8L1713.7 1126.9L1715.0 1126.8L1716.4 1126.7L1717.7 1126.5L1719.0 1126.3L1720.4 1125.9L1721.7 1125.6L1723.1 1125.1L1724.4 1124.7L1725.7 1124.2L1727.1 1123.7L1728.4 1123.2L1729.8 1122.7L1731.1 1122.3L1732.4 1121.8L1733.8 1121.4L1735.1 1121.1L1736.5 1120.8L1737.8 1120.5L1739.1 1120.4L1740.5 1120.3L1741.8 1120.2L1743.2 1120.3L1744.5 1120.4L1745.8 1120.5L1747.2 1120.8L1748.5 1121.1L1749.8 1121.4L1751.2 1121.8L1752.5 1122.2L1753.9 1122.7L1755.2 1123.1L1756.5 1123.6L1757.9 1124.0L1759.2 1124.5L1760.6 1124.9L1761.9 1125.3L1763.2 1125.6L1764.6 1125.9L1765.9 1126.1L1767.3 1126.3L1768.6 1126.4L1769.9 1126.4L1771.3 1126.4L1772.6 1126.3L1774.0 1126.1L1775.3 1125.9L1776.6 1125.6L1778.0 1125.3L1779.3 1124.9L1780.6 1124.6L1782.0 1124.1L1783.3 1123.7L1784.7 1123.3L1786.0 1122.9L1787.3 1122.5L1788.7 1122.1L1790.0 1121.7L1791.4 1121.4L1792.7 1121.2L1794.0 1121.0L1795.4 1120.8L1796.7 1120.7L1798.1 1120.7M1798.1 1120.7L1799.4 1120.7L1800.7 1120.8L1802.1 1121.0L1803.4 1121.2L1804.8 1121.4L1806.1 1121.7L1807.4 1122.0L1808.8 1122.4L1810.1 1122.8L1811.4 1123.2L1812.8 1123.6L1814.1 1124.0L1815.5 1124.3L1816.8 1124.7L1818.1 1125.0L1819.5 1125.3L1820.8 1125.5L1822.2 1125.7L1823.5 1125.9L1824.8 1126.0L1826.2 1126.0L1827.5 1126.0L1828.9 1125.9L1830.2 1125.8L1831.5 1125.6L1832.9 1125.3L1834.2 1125.1L1835.6 1124.8L1836.9 1124.4L1838.2 1124.1L1839.6 1123.7L1840.9 1123.3L1842.2 1123.0L1843.6 1122.6L1844.9 1122.3L1846.3 1122.0L1847.6 1121.7L1848.9 1121.5L1850.3 1121.3L1851.6 1121.2L1853.0 1121.1L1854.3 1121.1L1855.6 1121.1L1857.0 1121.2L1858.3 1121.3L1859.7 1121.5L1861.0 1121.7L1862.3 1122.0L1863.7 1122.2L1865.0 1122.5L1866.4 1122.9L1867.7 1123.2L1869.0 1123.6L1870.4 1123.9L1871.7 1124.2L1873.0 1124.5L1874.4 1124.8L1875.7 1125.0L1877.1 1125.3L1878.4 1125.4L1879.7 1125.5L1881.1 1125.6L1882.4 1125.7L1883.8 1125.6L1885.1 1125.6L1886.4 1125.4L1887.8 1125.3L1889.1 1125.1L1890.5 1124.9L1891.8 1124.6L1893.1 1124.3L1894.5 1124.0L1895.8 1123.7L1897.2 1123.4L1898.5 1123.1L1899.8 1122.8L1901.2 1122.5L1902.5 1122.2L1903.8 1122.0L1905.2 1121.8L1906.5 1121.7L1907.9 1121.5L1909.2 1121.5L1910.5 1121.4L1911.9 1121.5L1913.2 1121.5L1914.6 1121.6L1915.9 1121.8L1917.2 1122.0L1918.6 1122.2L1919.9 1122.4L1921.3 1122.7L1922.6 1123.0L1923.9 1123.2L1925.3 1123.5L1926.6 1123.8L1928.0 1124.1L1929.3 1124.4L1930.6 1124.6L1932.0 1124.8L1933.3 1125.0L1934.6 1125.1L1936.0 1125.3L1937.3 1125.3L1938.7 1125.4L1940.0 1125.3L1941.3 1125.3L1942.7 1125.2L1944.0 1125.1L1945.4 1124.9L1946.7 1124.7L1948.0 1124.5L1949.4 1124.2L1950.7 1124.0L1952.1 1123.7L1953.4 1123.4L1954.7 1123.2L1956.1 1122.9L1957.4 1122.7L1958.8 1122.4L1960.1 1122.2L1961.4 1122.1L1962.8 1121.9L1964.1 1121.8L1965.4 1121.8L1966.8 1121.7L1968.1 1121.7L1969.5 1121.8L1970.8 1121.9L1972.1 1122.0L1973.5 1122.2L1974.8 1122.4L1976.2 1122.6L1977.5 1122.8M1977.5 1122.8L1978.8 1123.0L1980.2 1123.3L1981.5 1123.5L1982.9 1123.8L1984.2 1124.0L1985.5 1124.2L1986.9 1124.4L1988.2 1124.6L1989.6 1124.8L1990.9 1124.9L1992.2 1125.0L1993.6 1125.1L1994.9 1125.1L1996.3 1125.1L1997.6 1125.0L1998.9 1125.0L2000.3 1124.8L2001.6 1124.7L2002.9 1124.5L2004.3 1124.3L2005.6 1124.1L2007.0 1123.9L2008.3 1123.7L2009.6 1123.4L2011.0 1123.2L2012.3 1123.0L2013.7 1122.8L2015.0 1122.6L2016.3 1122.4L2017.7 1122.3L2019.0 1122.2L2020.4 1122.1L2021.7 1122.0L2023.0 1122.0L2024.4 1122.0L2025.7 1122.0L2027.1 1122.1L2028.4 1122.2L2029.7 1122.4L2031.1 1122.5L2032.4 1122.7L2033.7 1122.9L2035.1 1123.1L2036.4 1123.3L2037.8 1123.5L2039.1 1123.7L2040.4 1123.9L2041.8 1124.1L2043.1 1124.3L2044.5 1124.5L2045.8 1124.6L2047.1 1124.7L2048.5 1124.8L2049.8 1124.8L2051.2 1124.9L2052.5 1124.9L2053.8 1124.8L2055.2 1124.8L2056.5 1124.7L2057.9 1124.5L2059.2 1124.4L2060.5 1124.2L2061.9 1124.1L2063.2 1123.9L2064.5 1123.7L2065.9 1123.5L2067.2 1123.3L2068.6 1123.1L2069.9 1122.9L2071.2 1122.7L2072.6 1122.6L2073.9 1122.5L2075.3 1122.4L2076.6 1122.3L2077.9 1122.2L2079.3 1122.2L2080.6 1122.2L2082.0 1122.2L2083.3 1122.3L2084.6 1122.4L2086.0 1122.5L2087.3 1122.6L2088.7 1122.8L2090.0 1123.0L2091.3 1123.1L2092.7 1123.3L2094.0 1123.5L2095.3 1123.7L2096.7 1123.9L2098.0 1124.0L2099.4 1124.2L2100.7 1124.3L2102.0 1124.4L2103.4 1124.5L2104.7 1124.6L2106.1 1124.7L2107.4 1124.7L2108.7 1124.7L2110.1 1124.6L2111.4 1124.6L2112.8 1124.5L2114.1 1124.4L2115.4 1124.3L2116.8 1124.1L2118.1 1124.0L2119.5 1123.8L2120.8 1123.7L2122.1 1123.5L2123.5 1123.3L2124.8 1123.1L2126.1 1123.0L2127.5 1122.8L2128.8 1122.7L2130.2 1122.6L2131.5 1122.5L2132.8 1122.5L2134.2 1122.4L2135.5 1122.4L2136.9 1122.4L2138.2 1122.4L2139.5 1122.5L2140.9 1122.6L2142.2 1122.6L2143.6 1122.8L2144.9 1122.9L2146.2 1123.0L2147.6 1123.2L2148.9 1123.3L2150.3 1123.5L2151.6 1123.7L2152.9 1123.8L2154.3 1124.0L2155.6 1124.1L2156.9 1124.2M2156.9 1124.2L2158.3 1124.3L2159.6 1124.4L2161.0 1124.5L2162.3 1124.5L2163.6 1124.5L2165.0 1124.5L2166.3 1124.5L2167.6 1124.4L2169.0 1124.4L2170.3 1124.3L2171.6 1124.2L2173.0 1124.1L2174.3 1123.9L2175.6 1123.8L2177.0 1123.6L2178.3 1123.5L2179.6 1123.4L2181.0 1123.2L2182.3 1123.1L2183.6 1123.0L2185.0 1122.8L2186.3 1122.7L2187.7 1122.7L2189.0 1122.6L2190.3 1122.6L2191.7 1122.5L2193.0 1122.5L2194.3 1122.6L2195.7 1122.6L2197.0 1122.7"/>
<path stroke="#0072b2" stroke-dasharray="18 23" d="M362.5 594.5L363.8 594.5L365.2 594.5L366.5 594.7L367.9 594.9L369.2 595.3L370.5 595.8L371.9 596.6L373.2 597.6L374.6 598.9L375.9 600.4L377.2 602.1L378.6 604.2L379.9 606.4L381.2 609.0L382.6 611.7L383.9 614.6L385.3 617.7L386.6 621.0L387.9 624.3L389.3 627.7L390.6 631.1L392.0 634.5L393.3 637.8L394.6 641.1L396.0 644.2L397.3 647.2L398.7 649.9L400.0 652.5L401.3 654.8L402.7 656.9L404.0 658.6L405.4 660.2L406.7 661.4L408.0 662.5L409.4 663.2L410.7 663.8L412.0 664.1L413.4 664.3L414.7 664.3L416.1 664.2L417.4 664.0L418.7 663.8L420.1 663.5L421.4 663.3L422.8 663.2L424.1 663.2L425.4 663.3L426.8 663.5L428.1 664.0L429.5 664.6L430.8 665.4L432.1 666.5L433.5 667.8L434.8 669.3L436.2 671.1L437.5 673.0L438.8 675.1L440.2 677.4L441.5 679.9L442.8 682.5L444.2 685.1L445.5 687.8L446.9 690.6L448.2 693.3L449.5 696.0L450.9 698.6L452.2 701.1L453.6 703.4L454.9 705.6L456.2 707.6L457.6 709.4L458.9 711.0L460.3 712.4L461.6 713.5L462.9 714.4L464.3 715.1L465.6 715.6L467.0 715.9L468.3 716.0L469.6 716.0L471.0 715.9L472.3 715.6L473.6 715.3L475.0 714.9L476.3 714.5L477.7 714.2L479.0 713.9L480.3 713.7L481.7 713.6L483.0 713.7L484.4 713.9L485.7 714.2L487.0 714.8L488.4 715.6L489.7 716.5L491.1 717.6L492.4 719.0L493.7 720.5L495.1 722.1L496.4 724.0L497.8 725.9L499.1 728.0L500.4 730.1L501.8 732.3L503.1 734.5L504.4 736.7L505.8 738.8L507.1 740.9L508.5 742.9L509.8 744.8L511.1 746.6L512.5 748.2L513.8 749.6L515.2 750.8L516.5 751.9L517.8 752.7L519.2 753.4L520.5 753.8L521.9 754.1L523.2 754.3L524.5 754.2L525.9 754.1L527.2 753.8L528.6 753.5L529.9 753.1L531.2 752.6L532.6 752.2L533.9 751.8L535.2 751.4L536.6 751.1L537.9 750.9L539.3 750.8L540.6 750.9L541.9 751.1M541.9 751.1L543.3 751.4L544.6 751.9L546.0 752.6L547.3 753.5L548.6 754.5L550.0 755.7L551.3 757.0L552.7 758.4L554.0 760.0L555.3 761.6L556.7 763.4L558.0 765.1L559.4 766.9L560.7 768.7L562.0 770.4L563.4 772.1L564.7 773.7L566.0 775.3L567.4 776.7L568.7 777.9L570.1 779.1L571.4 780.0L572.7 780.8L574.1 781.5L575.4 782.0L576.8 782.3L578.1 782.4L579.4 782.4L580.8 782.3L582.1 782.1L583.5 781.8L584.8 781.4L586.1 781.0L587.5 780.5L588.8 780.0L590.2 779.6L591.5 779.2L592.8 778.8L594.2 778.5L595.5 778.4L596.8 778.3L598.2 778.4L599.5 778.6L600.9 779.0L602.2 779.4L603.5 780.1L604.9 780.9L606.2 781.8L607.6 782.8L608.9 784.0L610.2 785.2L611.6 786.6L612.9 788.0L614.3 789.4L615.6 790.8L616.9 792.3L618.3 793.7L619.6 795.1L621.0 796.4L622.3 797.6L623.6 798.8L625.0 799.8L626.3 800.7L627.6 801.5L629.0 802.1L630.3 802.6L631.7 802.9L633.0 803.1L634.3 803.2L635.7 803.1L637.0 803.0L638.4 802.7L639.7 802.4L641.0 802.0L642.4 801.5L643.7 801.1L645.1 800.6L646.4 800.1L647.7 799.7L649.1 799.3L650.4 799.0L651.8 798.8L653.1 798.7L654.4 798.7L655.8 798.8L657.1 799.0L658.4 799.4L659.8 799.9L661.1 800.5L662.5 801.2L663.8 802.0L665.1 802.9L666.5 804.0L667.8 805.0L669.2 806.2L670.5 807.3L671.8 808.5L673.2 809.7L674.5 810.9L675.9 812.0L677.2 813.1L678.5 814.1L679.9 815.0L681.2 815.8L682.6 816.6L683.9 817.2L685.2 817.6L686.6 818.0L687.9 818.3L689.3 818.4L690.6 818.4L691.9 818.3L693.3 818.1L694.6 817.8L695.9 817.5L697.3 817.1L698.6 816.7L700.0 816.2L701.3 815.8L702.6 815.3L704.0 814.9L705.3 814.5L706.7 814.2L708.0 814.0L709.3 813.8L710.7 813.8L712.0 813.8L713.4 814.0L714.7 814.2L716.0 814.6L717.4 815.0L718.7 815.6L720.1 816.3L721.4 817.0M721.4 817.0L722.7 817.8L724.1 818.7L725.4 819.6L726.7 820.6L728.1 821.6L729.4 822.6L730.8 823.5L732.1 824.4L733.4 825.3L734.8 826.2L736.1 826.9L737.5 827.6L738.8 828.2L740.1 828.6L741.5 829.0L742.8 829.3L744.2 829.5L745.5 829.6L746.8 829.5L748.2 829.4L749.5 829.2L750.9 828.9L752.2 828.6L753.5 828.2L754.9 827.8L756.2 827.4L757.5 827.0L758.9 826.6L760.2 826.2L761.6 825.8L762.9 825.5L764.2 825.3L765.6 825.1L766.9 825.0L768.3 825.0L769.6 825.1L770.9 825.3L772.3 825.5L773.6 825.9L775.0 826.3L776.3 826.9L777.6 827.5L779.0 828.2L780.3 828.9L781.7 829.6L783.0 830.4L784.3 831.2L785.7 832.0L787.0 832.8L788.3 833.6L789.7 834.3L791.0 835.0L792.4 835.6L793.7 836.2L795.0 836.6L796.4 837.0L797.7 837.3L799.1 837.6L800.4 837.7L801.7 837.7L803.1 837.7L804.4 837.5L805.8 837.3L807.1 837.1L808.4 836.8L809.8 836.4L811.1 836.1L812.5 835.7L813.8 835.3L815.1 834.9L816.5 834.5L817.8 834.2L819.1 833.9L820.5 833.6L821.8 833.5L823.2 833.4L824.5 833.3L825.8 833.4L827.2 833.5L828.5 833.7L829.9 834.0L831.2 834.3L832.5 834.8L833.9 835.3L835.2 835.8L836.6 836.4L837.9 837.0L839.2 837.7L840.6 838.4L841.9 839.0L843.3 839.7L844.6 840.3L845.9 840.9L847.3 841.5L848.6 842.0L849.9 842.5L851.3 842.8L852.6 843.2L854.0 843.4L855.3 843.6L856.6 843.7L858.0 843.7L859.3 843.6L860.7 843.5L862.0 843.3L863.3 843.1L864.7 842.8L866.0 842.5L867.4 842.1L868.7 841.8L870.0 841.4L871.4 841.0L872.7 840.7L874.1 840.4L875.4 840.1L876.7 839.9L878.1 839.7L879.4 839.6L880.7 839.5L882.1 839.6L883.4 839.7L884.8 839.8L886.1 840.0L887.4 840.3L888.8 840.7L890.1 841.1L891.5 841.5L892.8 842.0L894.1 842.5L895.5 843.1L896.8 843.6L898.2 844.2L899.5 844.7L900.8 845.3M900.8 845.3L902.2 845.8L903.5 846.2L904.9 846.7L906.2 847.0L907.5 847.4L908.9 847.6L910.2 847.8L911.5 847.9L912.9 848.0L914.2 848.0L915.6 847.9L916.9 847.8L918.2 847.6L919.6 847.4L920.9 847.2L922.3 846.9L923.6 846.6L924.9 846.2L926.3 845.9L927.6 845.6L929.0 845.3L930.3 845.0L931.6 844.8L933.0 844.5L934.3 844.4L935.7 844.3L937.0 844.2L938.3 844.2L939.7 844.3L941.0 844.4L942.3 844.5L943.7 844.8L945.0 845.1L946.4 845.4L947.7 845.8L949.0 846.2L950.4 846.6L951.7 847.1L953.1 847.5L954.4 848.0L955.7 848.4L957.1 848.9L958.4 849.3L959.8 849.7L961.1 850.1L962.4 850.4L963.8 850.6L965.1 850.8L966.5 851.0L967.8 851.1L969.1 851.1L970.5 851.1L971.8 851.1L973.1 851.0L974.5 850.8L975.8 850.6L977.2 850.4L978.5 850.1L979.8 849.8L981.2 849.5L982.5 849.3L983.9 849.0L985.2 848.7L986.5 848.4L987.9 848.2L989.2 848.0L990.6 847.9L991.9 847.8L993.2 847.7L994.6 847.7L995.9 847.7L997.3 847.8L998.6 847.9L999.9 848.1L1001.3 848.4L1002.6 848.6L1003.9 848.9L1005.3 849.3L1006.6 849.6L1008.0 850.0L1009.3 850.4L1010.6 850.8L1012.0 851.2L1013.3 851.5L1014.7 851.9L1016.0 852.2L1017.3 852.5L1018.7 852.8L1020.0 853.0L1021.4 853.2L1022.7 853.3L1024.0 853.4L1025.4 853.4L1026.7 853.4L1028.1 853.3L1029.4 853.2L1030.7 853.1L1032.1 852.9L1033.4 852.7L1034.7 852.5L1036.1 852.2L1037.4 852.0L1038.8 851.7L1040.1 851.5L1041.4 851.2L1042.8 851.0L1044.1 850.8L1045.5 850.6L1046.8 850.5L1048.1 850.4L1049.5 850.3L1050.8 850.3L1052.2 850.3L1053.5 850.4L1054.8 850.5L1056.2 850.6L1057.5 850.8L1058.9 851.0L1060.2 851.3L1061.5 851.6L1062.9 851.9L1064.2 852.2L1065.5 852.5L1066.9 852.9L1068.2 853.2L1069.6 853.5L1070.9 853.8L1072.2 854.1L1073.6 854.3L1074.9 854.5L1076.3 854.7L1077.6 854.9L1078.9 855.0L1080.3 855.0M1080.3 855.0L1081.6 855.1L1083.0 855.0L1084.3 855.0L1085.6 854.9L1087.0 854.8L1088.3 854.6L1089.7 854.4L1091.0 854.2L1092.3 854.0L1093.7 853.8L1095.0 853.6L1096.3 853.3L1097.7 853.1L1099.0 852.9L1100.4 852.7L1101.7 852.6L1103.0 852.4L1104.4 852.3L1105.7 852.3L1107.1 852.2L1108.4 852.3L1109.7 852.3L1111.1 852.4L1112.4 852.5L1113.8 852.7L1115.1 852.9L1116.4 853.1L1117.8 853.3L1119.1 853.6L1120.5 853.8L1121.8 854.1L1123.1 854.4L1124.5 854.7L1125.8 854.9L1127.1 855.2L1128.5 855.4L1129.8 855.6L1131.2 855.8L1132.5 856.0L1133.8 856.1L1135.2 856.2L1136.5 856.2L1137.9 856.2L1139.2 856.2L1140.5 856.2L1141.9 856.1L1143.2 856.0L1144.6 855.8L1145.9 855.7L1147.2 855.5L1148.6 855.3L1149.9 855.1L1151.3 854.9L1152.6 854.7L1153.9 854.5L1155.3 854.3L1156.6 854.2L1157.9 854.0L1159.3 853.9L1160.6 853.8L1162.0 853.8L1163.3 853.7L1164.6 853.7L1166.0 853.8L1167.3 853.8L1168.7 853.9L1170.0 854.1L1171.3 854.2L1172.7 854.4L1174.0 854.6L1175.4 854.8L1176.7 855.0L1178.0 855.3L1179.4 855.5L1180.7 855.7L1182.1 856.0L1183.4 856.2L1184.7 856.4L1186.1 856.6L1187.4 856.7L1188.7 856.8L1190.1 856.9L1191.4 857.0L1192.8 857.1L1194.1 857.1L1195.4 857.0L1196.8 857.0L1198.1 856.9L1199.5 856.8L1200.8 856.7L1202.1 856.6L1203.5 856.4L1204.8 856.2L1206.2 856.1L1207.5 855.9L1208.8 855.7L1210.2 855.6L1211.5 855.4L1212.9 855.3L1214.2 855.1L1215.5 855.0L1216.9 854.9L1218.2 854.9L1219.5 854.9L1220.9 854.9L1222.2 854.9L1223.6 854.9L1224.9 855.0L1226.2 855.1L1227.6 855.3L1228.9 855.4L1230.3 855.6L1231.6 855.8L1232.9 855.9L1234.3 856.1L1235.6 856.3L1237.0 856.5L1238.3 856.7L1239.6 856.9L1241.0 857.1L1242.3 857.2L1243.7 857.4L1245.0 857.5L1246.3 857.6L1247.7 857.6L1249.0 857.6L1250.3 857.7L1251.7 857.6L1253.0 857.6L1254.4 857.5L1255.7 857.4L1257.0 857.3L1258.4 857.2L1259.7 857.1M1259.7 857.1L1261.1 856.9L1262.4 856.8L1263.7 856.6L1265.1 856.5L1266.4 856.3L1267.8 856.2L1269.1 856.1L1270.4 856.0L1271.8 855.9L1273.1 855.8L1274.5 855.7L1275.8 855.7L1277.1 855.7L1278.5 855.7L1279.8 855.8L1281.1 855.8L1282.5 855.9L1283.8 856.0L1285.2 856.2L1286.5 856.3L1287.8 856.5L1289.2 856.6L1290.5 856.8L1291.9 856.9L1293.2 857.1L1294.5 857.3L1295.9 857.4L1297.2 857.6L1298.6 857.7L1299.9 857.8L1301.2 857.9L1302.6 858.0L1303.9 858.0L1305.3 858.1L1306.6 858.1L1307.9 858.1L1309.3 858.0L1310.6 858.0L1311.9 857.9L1313.3 857.8L1314.6 857.7L1316.0 857.6L1317.3 857.4L1318.6 857.3L1320.0 857.2L1321.3 857.0L1322.7 856.9L1324.0 856.8L1325.3 856.7L1326.7 856.6L1328.0 856.5L1329.4 856.4L1330.7 856.4L1332.0 856.4L1333.4 856.4L1334.7 856.4L1336.1 856.4L1337.4 856.5L1338.7 856.5L1340.1 856.6L1341.4 856.7L1342.8 856.8L1344.1 857.0L1345.4 857.1L1346.8 857.3L1348.1 857.4L1349.4 857.5L1350.8 857.7L1352.1 857.8L1353.5 857.9L1354.8 858.0L1356.1 858.1L1357.5 858.2L1358.8 858.3L1360.2 858.3L1361.5 858.3L1362.8 858.4L1364.2 858.3L1365.5 858.3L1366.9 858.3L1368.2 858.2L1369.5 858.1L1370.9 858.0L1372.2 857.9L1373.6 857.8L1374.9 857.7L1376.2 857.6L1377.6 857.5L1378.9 857.4L1380.2 857.2L1381.6 857.1L1382.9 857.1L1384.3 857.0L1385.6 856.9L1386.9 856.9L1388.3 856.9L1389.6 856.9L1391.0 856.9L1392.3 856.9L1393.6 856.9L1395.0 857.0L1396.3 857.1L1397.7 857.2L1399.0 857.3L1400.3 857.4L1401.7 857.5L1403.0 857.6L1404.4 857.7L1405.7 857.9L1407.0 858.0L1408.4 858.1L1409.7 858.2L1411.0 858.3L1412.4 858.4L1413.7 858.4L1415.1 858.5L1416.4 858.5L1417.7 858.5L1419.1 858.5L1420.4 858.5L1421.8 858.5L1423.1 858.5L1424.4 858.4L1425.8 858.3L1427.1 858.3L1428.5 858.2L1429.8 858.1L1431.1 858.0L1432.5 857.9L1433.8 857.8L1435.2 857.7L1436.5 857.6L1437.8 857.5L1439.2 857.4M1439.2 857.4L1440.5 857.4L1441.8 857.3L1443.2 857.3L1444.5 857.2L1445.9 857.2L1447.2 857.2L1448.5 857.3L1449.9 857.3L1451.2 857.4L1452.6 857.4L1453.9 857.5L1455.2 857.6L1456.6 857.7L1457.9 857.8L1459.3 857.9L1460.6 858.0L1461.9 858.1L1463.3 858.2L1464.6 858.3L1466.0 858.4L1467.3 858.4L1468.6 858.5L1470.0 858.6L1471.3 858.6L1472.6 858.7L1474.0 858.7L1475.3 858.7L1476.7 858.7L1478.0 858.6L1479.3 858.6L1480.7 858.6L1482.0 858.5L1483.4 858.4L1484.7 858.3L1486.0 858.3L1487.4 858.2L1488.7 858.1L1490.1 858.0L1491.4 857.9L1492.7 857.8L1494.1 857.8L1495.4 857.7L1496.8 857.6L1498.1 857.6L1499.4 857.6L1500.8 857.5L1502.1 857.5L1503.4 857.5L1504.8 857.6L1506.1 857.6L1507.5 857.6L1508.8 857.7L1510.1 857.8L1511.5 857.8L1512.8 857.9L1514.2 858.0L1515.5 858.1L1516.8 858.2L1518.2 858.2L1519.5 858.3L1520.9 858.4L1522.2 858.5L1523.5 858.6L1524.9 858.6L1526.2 858.7L1527.6 858.7L1528.9 858.7L1530.2 858.8L1531.6 858.8L1532.9 858.7L1534.2 858.7L1535.6 858.7L1536.9 858.6L1538.3 858.6L1539.6 858.5L1540.9 858.5L1542.3 858.4L1543.6 858.3L1545.0 858.3L1546.3 858.2L1547.6 858.1L1549.0 858.0L1550.3 858.0L1551.7 857.9L1553.0 857.9L1554.3 857.8L1555.7 857.8L1557.0 857.8L1558.4 857.8L1559.7 857.8L1561.0 857.8L1562.4 857.8L1563.7 857.8L1565.0 857.9L1566.4 857.9L1567.7 858.0L1569.1 858.1L1570.4 858.1L1571.7 858.2L1573.1 858.3L1574.4 858.4L1575.8 858.4L1577.1 858.5L1578.4 858.6L1579.8 858.6L1581.1 858.7L1582.5 858.7L1583.8 858.8L1585.1 858.8L1586.5 858.8L1587.8 858.8L1589.2 858.8L1590.5 858.8L1591.8 858.8L1593.2 858.7L1594.5 858.7L1595.8 858.6L1597.2 858.6L1598.5 858.5L1599.9 858.4L1601.2 858.4L1602.5 858.3L1603.9 858.2L1605.2 858.2L1606.6 858.1L1607.9 858.1L1609.2 858.0L1610.6 858.0L1611.9 858.0L1613.3 858.0L1614.6 857.9L1615.9 858.0L1617.3 858.0L1618.6 858.0M1618.6 858.0L1620.0 858.0L1621.3 858.1L1622.6 858.1L1624.0 858.1L1625.3 858.2L1626.6 858.3L1628.0 858.3L1629.3 858.4L1630.7 858.5L1632.0 858.5L1633.3 858.6L1634.7 858.6L1636.0 858.7L1637.4 858.7L1638.7 858.8L1640.0 858.8L1641.4 858.8L1642.7 858.8L1644.1 858.8L1645.4 858.8L1646.7 858.8L1648.1 858.8L1649.4 858.8L1650.8 858.7L1652.1 858.7L1653.4 858.6L1654.8 858.6L1656.1 858.5L1657.4 858.5L1658.8 858.4L1660.1 858.3L1661.5 858.3L1662.8 858.2L1664.1 858.2L1665.5 858.2L1666.8 858.1L1668.2 858.1L1669.5 858.1L1670.8 858.1L1672.2 858.1L1673.5 858.1L1674.9 858.1L1676.2 858.1L1677.5 858.2L1678.9 858.2L1680.2 858.3L1681.6 858.3L1682.9 858.4L1684.2 858.4L1685.6 858.5L1686.9 858.5L1688.2 858.6L1689.6 858.6L1690.9 858.7L1692.3 858.7L1693.6 858.8L1694.9 858.8L1696.3 858.8L1697.6 858.8L1699.0 858.8L1700.3 858.8L1701.6 858.8L1703.0 858.8L1704.3 858.8L1705.7 858.8L1707.0 858.7L1708.3 858.7L1709.7 858.7L1711.0 858.6L1712.4 858.6L1713.7 858.5L1715.0 858.5L1716.4 858.4L1717.7 858.4L1719.0 858.3L1720.4 858.3L1721.7 858.3L1723.1 858.2L1724.4 858.2L1725.7 858.2L1727.1 858.2L1728.4 858.2L1729.8 858.2L1731.1 858.2L1732.4 858.2L1733.8 858.3L1735.1 858.3L1736.5 858.3L1737.8 858.4L1739.1 858.4L1740.5 858.5L1741.8 858.5L1743.2 858.6L1744.5 858.6L1745.8 858.7L1747.2 858.7L1748.5 858.7L1749.8 858.8L1751.2 858.8L1752.5 858.8L1753.9 858.8L1755.2 858.8L1756.5 858.8L1757.9 858.8L1759.2 858.8L1760.6 858.8L1761.9 858.8L1763.2 858.8L1764.6 858.7L1765.9 858.7L1767.3 858.7L1768.6 858.6L1769.9 858.6L1771.3 858.5L1772.6 858.5L1774.0 858.5L1775.3 858.4L1776.6 858.4L1778.0 858.4L1779.3 858.3L1780.6 858.3L1782.0 858.3L1783.3 858.3L1784.7 858.3L1786.0 858.3L1787.3 858.3L1788.7 858.3L1790.0 858.4L1791.4 858.4L1792.7 858.4L1794.0 858.4L1795.4 858.5L1796.7 858.5L1798.1 858.6M1798.1 858.6L1799.4 858.6L1800.7 858.6L1802.1 858.7L1803.4 858.7L1804.8 858.7L1806.1 858.8L1807.4 858.8L1808.8 858.8L1810.1 858.8L1811.4 858.8L1812.8 858.8L1814.1 858.8L1815.5 858.8L1816.8 858.8L1818.1 858.8L1819.5 858.8L1820.8 858.7L1822.2 858.7L1823.5 858.7L1824.8 858.6L1826.2 858.6L1827.5 858.6L1828.9 858.5L1830.2 858.5L1831.5 858.5L1832.9 858.4L1834.2 858.4L1835.6 858.4L1836.9 858.4L1838.2 858.4L1839.6 858.4L1840.9 858.4L1842.2 858.4L1843.6 858.4L1844.9 858.4L1846.3 858.4L1847.6 858.4L1848.9 858.5L1850.3 858.5L1851.6 858.5L1853.0 858.6L1854.3 858.6L1855.6 858.6L1857.0 858.7L1858.3 858.7L1859.7 858.7L1861.0 858.8L1862.3 858.8L1863.7 858.8L1865.0 858.8L1866.4 858.8L1867.7 858.8L1869.0 858.8L1870.4 858.8L1871.7 858.8L1873.0 858.8L1874.4 858.8L1875.7 858.8L1877.1 858.7L1878.4 858.7L1879.7 858.7L1881.1 858.7L1882.4 858.6L1883.8 858.6L1885.1 858.6L1886.4 858.5L1887.8 858.5L1889.1 858.5L1890.5 858.5L1891.8 858.5L1893.1 858.4L1894.5 858.4L1895.8 858.4L1897.2 858.4L1898.5 858.4L1899.8 858.4L1901.2 858.4L1902.5 858.5L1903.8 858.5L1905.2 858.5L1906.5 858.5L1907.9 858.6L1909.2 858.6L1910.5 858.6L1911.9 858.6L1913.2 858.7L1914.6 858.7L1915.9 858.7L1917.2 858.8L1918.6 858.8L1919.9 858.8L1921.3 858.8L1922.6 858.8L1923.9 858.8L1925.3 858.8L1926.6 858.8L1928.0 858.8L1929.3 858.8L1930.6 858.8L1932.0 858.8L1933.3 858.7L1934.6 858.7L1936.0 858.7L1937.3 858.7L1938.7 858.6L1940.0 858.6L1941.3 858.6L1942.7 858.6L1944.0 858.5L1945.4 858.5L1946.7 858.5L1948.0 858.5L1949.4 858.5L1950.7 858.5L1952.1 858.5L1953.4 858.5L1954.7 858.5L1956.1 858.5L1957.4 858.5L1958.8 858.5L1960.1 858.5L1961.4 858.5L1962.8 858.6L1964.1 858.6L1965.4 858.6L1966.8 858.6L1968.1 858.7L1969.5 858.7L1970.8 858.7L1972.1 858.7L1973.5 858.8L1974.8 858.8L1976.2 858.8L1977.5 858.8M1977.5 858.8L1978.8 858.8L1980.2 858.8L1981.5 858.8L1982.9 858.8L1984.2 858.8L1985.5 858.8L1986.9 858.8L1988.2 858.8L1989.6 858.7L1990.9 858.7L1992.2 858.7L1993.6 858.7L1994.9 858.7L1996.3 858.6L1997.6 858.6L1998.9 858.6L2000.3 858.6L2001.6 858.6L2002.9 858.5L2004.3 858.5L2005.6 858.5L2007.0 858.5L2008.3 858.5L2009.6 858.5L2011.0 858.5L2012.3 858.5L2013.7 858.5L2015.0 858.5L2016.3 858.5L2017.7 858.6L2019.0 858.6L2020.4 858.6L2021.7 858.6L2023.0 858.6L2024.4 858.7L2025.7 858.7L2027.1 858.7L2028.4 858.7L2029.7 858.7L2031.1 858.8L2032.4 858.8L2033.7 858.8L2035.1 858.8L2036.4 858.8L2037.8 858.8L2039.1 858.8L2040.4 858.8L2041.8 858.8L2043.1 858.8L2044.5 858.8L2045.8 858.7L2047.1 858.7L2048.5 858.7L2049.8 858.7L2051.2 858.7L2052.5 858.7L2053.8 858.6L2055.2 858.6L2056.5 858.6L2057.9 858.6L2059.2 858.6L2060.5 858.6L2061.9 858.5L2063.2 858.5L2064.5 858.5L2065.9 858.5L2067.2 858.5L2068.6 858.5L2069.9 858.5L2071.2 858.6L2072.6 858.6L2073.9 858.6L2075.3 858.6L2076.6 858.6L2077.9 858.6L2079.3 858.7L2080.6 858.7L2082.0 858.7L2083.3 858.7L2084.6 858.7L2086.0 858.7L2087.3 858.8L2088.7 858.8L2090.0 858.8L2091.3 858.8L2092.7 858.8L2094.0 858.8L2095.3 858.8L2096.7 858.8L2098.0 858.8L2099.4 858.8L2100.7 858.8L2102.0 858.7L2103.4 858.7L2104.7 858.7L2106.1 858.7L2107.4 858.7L2108.7 858.7L2110.1 858.6L2111.4 858.6L2112.8 858.6L2114.1 858.6L2115.4 858.6L2116.8 858.6L2118.1 858.6L2119.5 858.6L2120.8 858.6L2122.1 858.6L2123.5 858.6L2124.8 858.6L2126.1 858.6L2127.5 858.6L2128.8 858.6L2130.2 858.6L2131.5 858.6L2132.8 858.6L2134.2 858.6L2135.5 858.7L2136.9 858.7L2138.2 858.7L2139.5 858.7L2140.9 858.7L2142.2 858.7L2143.6 858.7L2144.9 858.8L2146.2 858.8L2147.6 858.8L2148.9 858.8L2150.3 858.8L2151.6 858.8L2152.9 858.8L2154.3 858.8L2155.6 858.8L2156.9 858.7M2156.9 858.7L2158.3 858.7L2159.6 858.7L2161.0 858.7L2162.3 858.7L2163.6 858.7L2165.0 858.7L2166.3 858.7L2167.6 858.6L2169.0 858.6L2170.3 858.6L2171.6 858.6L2173.0 858.6L2174.3 858.6L2175.6 858.6L2177.0 858.6L2178.3 858.6L2179.6 858.6L2181.0 858.6L2182.3 858.6L2183.6 858.6L2185.0 858.6L2186.3 858.6L2187.7 858.6L2189.0 858.6L2190.3 858.7L2191.7 858.7L2193.0 858.7L2194.3 858.7L2195.7 858.7L2197.0 858.7"/>
</g>
<rect x="1134" y="68" width="1061" height="456" fill="#fff"/>
<rect x="1949" y="99" width="203" height="9" fill="#000" shape-rendering="crispEdges"/>
<rect x="1949" y="174" width="203" height="9" fill="#e51e10" shape-rendering="crispEdges"/>
<rect x="1949" y="250" width="203" height="9" fill="#0072b2" shape-rendering="crispEdges"/>
<rect x="1949" y="325" width="18" height="9" fill="#000" shape-rendering="crispEdges"/>
<rect x="1990" y="325" width="18" height="9" fill="#000" shape-rendering="crispEdges"/>
<rect x="2031" y="325" width="18" height="9" fill="#000" shape-rendering="crispEdges"/>
<rect x="2072" y="325" width="18" height="9" fill="#000" shape-rendering="crispEdges"/>
<rect x="2113" y="325" width="18" height="9" fill="#000" shape-rendering="crispEdges"/>
<rect x="1949" y="401" width="18" height="9" fill="#e51e10" shape-rendering="crispEdges"/>
<rect x="1990" y="401" width="18" height="9" fill="#e51e10" shape-rendering="crispEdges"/>
<rect x="2031" y="401" width="18" height="9" fill="#e51e10" shape-rendering="crispEdges"/>
<rect x="2072" y="401" width="18" height="9" fill="#e51e10" shape-rendering="crispEdges"/>
<rect x="2113" y="401" width="18" height="9" fill="#e51e10" shape-rendering="crispEdges"/>
<rect x="1949" y="476" width="18" height="9" fill="#0072b2" shape-rendering="crispEdges"/>
<rect x="1990" y="476" width="18" height="9" fill="#0072b2" shape-rendering="crispEdges"/>
<rect x="2031" y="476" width="18" height="9" fill="#0072b2" shape-rendering="crispEdges"/>
<rect x="2072" y="476" width="18" height="9" fill="#0072b2" shape-rendering="crispEdges"/>
<rect x="2113" y="476" width="18" height="9" fill="#0072b2" shape-rendering="crispEdges"/>
<g fill="#000" shape-rendering="crispEdges">
<rect x="360" y="63" width="1839" height="5"/>
<rect x="360" y="1386" width="1839" height="4"/>
<rect x="360" y="63" width="5" height="1327"/>
<rect x="2195" y="63" width="4" height="1327"/>
</g>
<g filter="url(#crisp)">
<text class="k" x="1905.3" y="127.9" text-anchor="end">Prob(qubits)</text>
<text class="k" x="1905.3" y="203.9" text-anchor="end">Prob(photons)</text>
<text class="k" x="1905.3" y="278.9" text-anchor="end">total Prob</text>
<text class="k" x="1905.3" y="354.8" text-anchor="end">Prob(qubits), wd</text>
<text class="k" x="1905.3" y="429.7" text-anchor="end">Prob(photons), wd</text>
<text class="k" x="1905.3" y="505.7" text-anchor="end">total Prob, wd</text>
<text transform="translate(315.5,91.9) scale(1,1.022)" text-anchor="end">2</text>
<text transform="translate(315.5,356.4) scale(1,1.022)" text-anchor="end">1.5</text>
<text transform="translate(315.5,620.9) scale(1,1.022)" text-anchor="end">1</text>
<text transform="translate(315.5,885.4) scale(1,1.022)" text-anchor="end">0.5</text>
<text transform="translate(315.5,1149.9) scale(1,1.022)" text-anchor="end">0</text>
<text transform="translate(315.5,1414.4) scale(1,1.022)" text-anchor="end">−0.5</text>
<text transform="translate(373.0,1492.6) scale(1,1.022)" text-anchor="middle">0</text>
<text transform="translate(678.8,1492.6) scale(1,1.022)" text-anchor="middle">50</text>
<text transform="translate(984.5,1492.6) scale(1,1.022)" text-anchor="middle">100</text>
<text transform="translate(1290.2,1492.6) scale(1,1.022)" text-anchor="middle">150</text>
<text transform="translate(1596.0,1492.6) scale(1,1.022)" text-anchor="middle">200</text>
<text transform="translate(1901.8,1492.6) scale(1,1.022)" text-anchor="middle">250</text>
<text transform="translate(2207.5,1492.6) scale(1,1.022)" text-anchor="middle">300</text>
<text class="ax" x="1280.2" y="1611.5" text-anchor="middle">t [ps]</text>
<text class="ax" transform="translate(78,726.3) rotate(-90)" text-anchor="middle">Prob</text>
<rect x="208.98" y="349.81" width="15.23" height="8.09" fill="#fff"/>
<rect x="231.68" y="349.81" width="15.00" height="8.09" fill="#fff"/>
<rect x="275.70" y="614.31" width="15.23" height="8.09" fill="#fff"/>
<rect x="298.40" y="614.31" width="15.00" height="8.09" fill="#fff"/>
<rect x="922.45" y="1486.01" width="15.23" height="8.09" fill="#fff"/>
<rect x="945.15" y="1486.01" width="15.00" height="8.09" fill="#fff"/>
<rect x="1228.20" y="1486.01" width="15.23" height="8.09" fill="#fff"/>
<rect x="1250.90" y="1486.01" width="15.00" height="8.09" fill="#fff"/>
</g>
</svg>
</body></html>
